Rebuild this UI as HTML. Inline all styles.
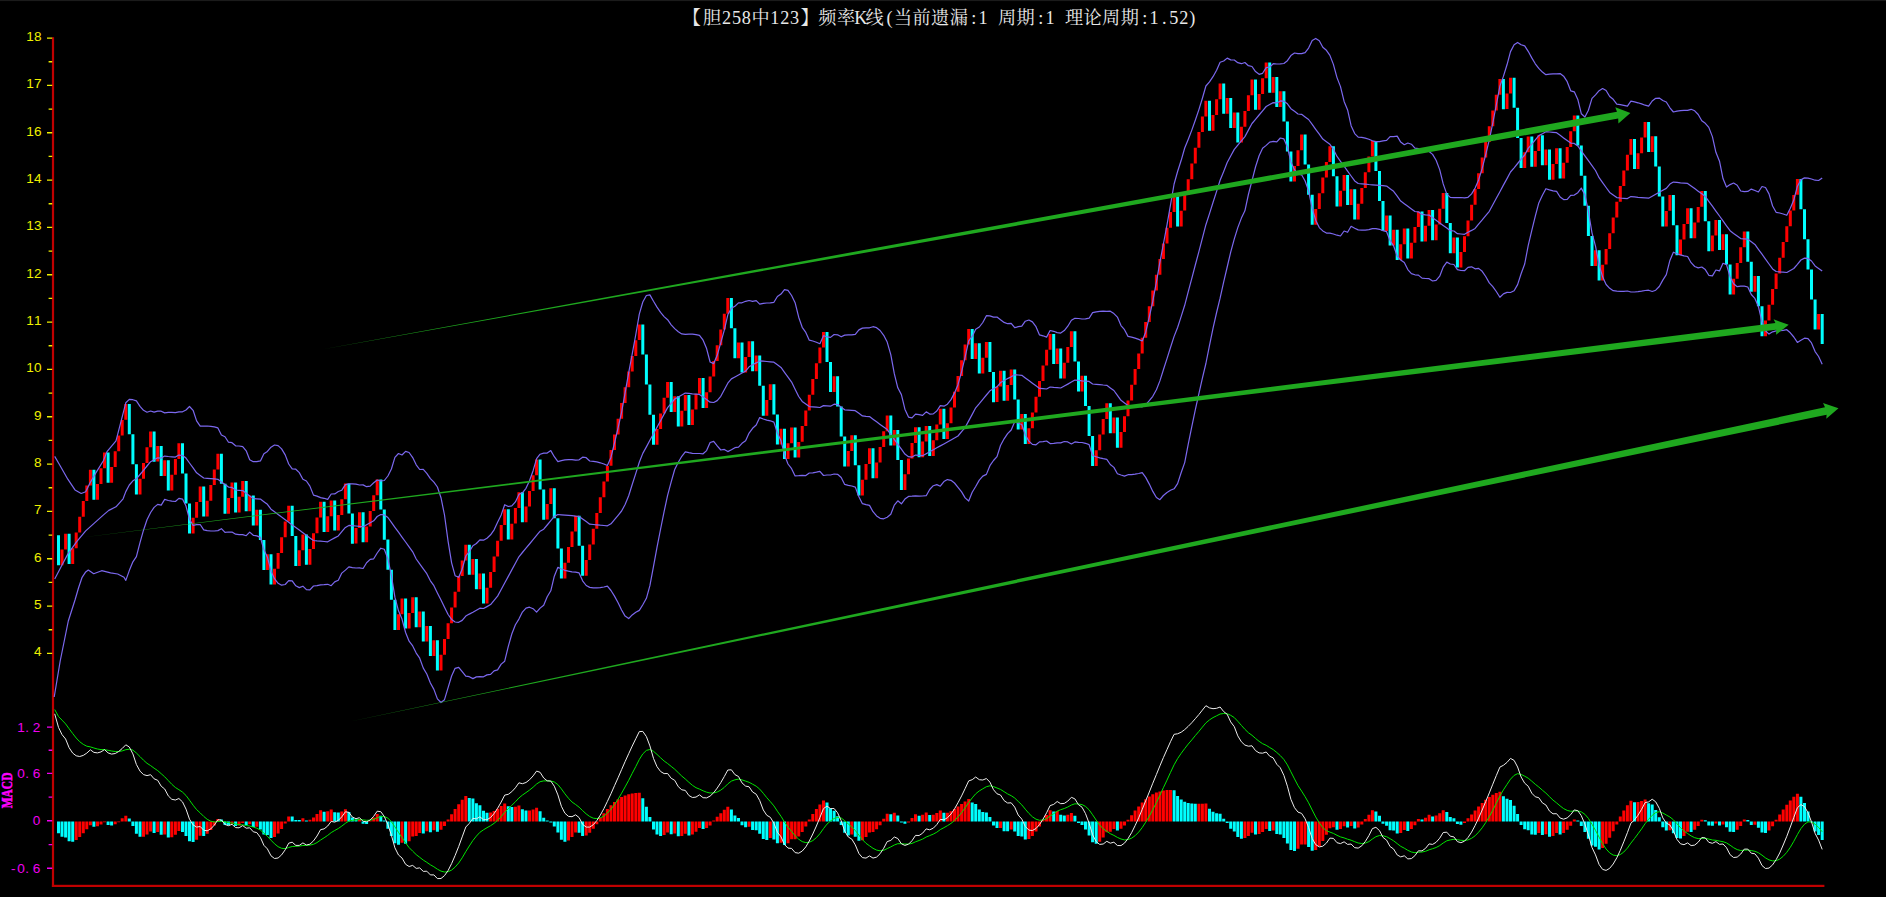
<!DOCTYPE html>
<html><head><meta charset="utf-8"><title>K</title>
<style>html,body{margin:0;padding:0;background:#000;overflow:hidden}svg{display:block}</style>
</head><body>
<svg width="1886" height="897" viewBox="0 0 1886 897">
<rect width="1886" height="897" fill="#000"/>
<rect width="1886" height="1.1" fill="#1b1b1b"/>
<rect x="51.9" y="37.2" width="2.2" height="849.8" fill="#c00000"/>
<rect x="51.9" y="884.8" width="1772.5" height="2.2" fill="#c00000"/>
<path d="M47 38.1h5.2M48.6 61.8h3.6M47 85.4h5.2M48.6 109.1h3.6M47 132.8h5.2M48.6 156.4h3.6M47 180.1h5.2M48.6 203.8h3.6M47 227.4h5.2M48.6 251.1h3.6M47 274.8h5.2M48.6 298.4h3.6M47 322.1h5.2M48.6 345.7h3.6M47 369.4h5.2M48.6 393.1h3.6M47 416.7h5.2M48.6 440.4h3.6M47 464.1h5.2M48.6 487.7h3.6M47 511.4h5.2M48.6 535.1h3.6M47 558.7h5.2M48.6 582.4h3.6M47 606.1h5.2M48.6 629.7h3.6M47 653.4h5.2" stroke="#f0f000" stroke-width="1.4" fill="none"/>
<g font-family="'Liberation Sans',sans-serif">
<text x="26.2 33.9" y="41.0" fill="#f0f000" font-size="13.6">18</text>
<text x="26.2 33.9" y="88.3" fill="#f0f000" font-size="13.6">17</text>
<text x="26.2 33.9" y="135.7" fill="#f0f000" font-size="13.6">16</text>
<text x="26.2 33.9" y="183.0" fill="#f0f000" font-size="13.6">14</text>
<text x="26.2 33.9" y="230.3" fill="#f0f000" font-size="13.6">13</text>
<text x="26.2 33.9" y="277.6" fill="#f0f000" font-size="13.6">12</text>
<text x="26.2 33.9" y="325.0" fill="#f0f000" font-size="13.6">11</text>
<text x="26.2 33.9" y="372.3" fill="#f0f000" font-size="13.6">10</text>
<text x="33.9" y="419.6" fill="#f0f000" font-size="13.6">9</text>
<text x="33.9" y="467.0" fill="#f0f000" font-size="13.6">8</text>
<text x="33.9" y="514.3" fill="#f0f000" font-size="13.6">7</text>
<text x="33.9" y="561.6" fill="#f0f000" font-size="13.6">6</text>
<text x="33.9" y="609.0" fill="#f0f000" font-size="13.6">5</text>
<text x="33.9" y="656.3" fill="#f0f000" font-size="13.6">4</text>
<path d="M47 727.1h5.2M47 773.4h5.2M47 820.8h5.2M47 868.3h5.2M48.6 750.2h3.6M48.6 797.1h3.6M48.6 844.6h3.6" stroke="#f000f0" stroke-width="1.4" fill="none"/>
<text x="17.3 25.3 32.7" y="731.5" fill="#f000f0" font-size="13.6">1.2</text>
<text x="17.3 25.3 32.7" y="777.8" fill="#f000f0" font-size="13.6">0.6</text>
<text x="32.7" y="825.2" fill="#f000f0" font-size="13.6">0</text>
<text x="11.1 17.3 25.3 32.7" y="872.7" fill="#f000f0" font-size="13.6">-0.6</text>
</g>
<text transform="translate(12.3,790.4) rotate(-90) scale(0.74,1)" text-anchor="middle" fill="#ff00ff" font-family="'Liberation Serif',serif" font-weight="bold" font-size="15.5" stroke="#ff00ff" stroke-width="0.5">MACD</text>
<path d="M60.5 549.5h3.0v15.7h-3.0zM64.1 533.8h3.0v15.7h-3.0zM71.2 548.2h3.0v15.7h-3.0zM74.7 532.5h3.0v15.7h-3.0zM78.2 516.8h3.0v15.7h-3.0zM81.8 501.1h3.0v15.7h-3.0zM85.3 485.4h3.0v15.7h-3.0zM88.9 469.7h3.0v15.7h-3.0zM96.0 484.0h3.0v15.7h-3.0zM99.5 468.3h3.0v15.7h-3.0zM103.0 452.6h3.0v15.7h-3.0zM110.1 467.0h3.0v15.7h-3.0zM113.7 451.3h3.0v15.7h-3.0zM117.2 435.6h3.0v15.7h-3.0zM120.7 419.9h3.0v15.7h-3.0zM124.3 404.1h3.0v15.7h-3.0zM138.5 478.7h3.0v15.7h-3.0zM142.0 463.0h3.0v15.7h-3.0zM145.5 447.3h3.0v15.7h-3.0zM149.1 431.6h3.0v15.7h-3.0zM156.2 445.9h3.0v15.7h-3.0zM163.2 460.3h3.0v15.7h-3.0zM170.3 474.7h3.0v15.7h-3.0zM173.9 459.0h3.0v15.7h-3.0zM177.4 443.3h3.0v15.7h-3.0zM191.6 517.8h3.0v15.7h-3.0zM195.1 502.1h3.0v15.7h-3.0zM198.7 486.4h3.0v15.7h-3.0zM205.7 500.8h3.0v15.7h-3.0zM209.3 485.1h3.0v15.7h-3.0zM212.8 469.4h3.0v15.7h-3.0zM216.4 453.7h3.0v15.7h-3.0zM227.0 498.1h3.0v15.7h-3.0zM230.5 482.4h3.0v15.7h-3.0zM237.6 496.8h3.0v15.7h-3.0zM241.2 481.1h3.0v15.7h-3.0zM248.2 495.5h3.0v15.7h-3.0zM255.3 509.8h3.0v15.7h-3.0zM265.9 554.3h3.0v15.7h-3.0zM273.0 568.7h3.0v15.7h-3.0zM276.6 553.0h3.0v15.7h-3.0zM280.1 537.3h3.0v15.7h-3.0zM283.7 521.6h3.0v15.7h-3.0zM287.2 505.8h3.0v15.7h-3.0zM297.8 550.3h3.0v15.7h-3.0zM301.4 534.6h3.0v15.7h-3.0zM308.4 549.0h3.0v15.7h-3.0zM312.0 533.3h3.0v15.7h-3.0zM315.5 517.6h3.0v15.7h-3.0zM319.1 501.8h3.0v15.7h-3.0zM326.2 516.2h3.0v15.7h-3.0zM329.7 500.5h3.0v15.7h-3.0zM336.8 514.9h3.0v15.7h-3.0zM340.3 499.2h3.0v15.7h-3.0zM343.9 483.5h3.0v15.7h-3.0zM354.5 527.9h3.0v15.7h-3.0zM358.0 512.2h3.0v15.7h-3.0zM365.1 526.6h3.0v15.7h-3.0zM368.7 510.9h3.0v15.7h-3.0zM372.2 495.2h3.0v15.7h-3.0zM375.7 479.5h3.0v15.7h-3.0zM397.0 614.2h3.0v15.7h-3.0zM400.5 598.5h3.0v15.7h-3.0zM407.6 612.9h3.0v15.7h-3.0zM411.2 597.2h3.0v15.7h-3.0zM418.2 611.5h3.0v15.7h-3.0zM425.3 625.9h3.0v15.7h-3.0zM432.4 640.3h3.0v15.7h-3.0zM439.5 654.7h3.0v15.7h-3.0zM443.0 639.0h3.0v15.7h-3.0zM446.6 623.3h3.0v15.7h-3.0zM450.1 607.5h3.0v15.7h-3.0zM453.6 591.8h3.0v15.7h-3.0zM457.2 576.1h3.0v15.7h-3.0zM460.7 560.4h3.0v15.7h-3.0zM464.3 544.7h3.0v15.7h-3.0zM471.4 559.1h3.0v15.7h-3.0zM478.4 573.5h3.0v15.7h-3.0zM485.5 587.8h3.0v15.7h-3.0zM489.1 572.1h3.0v15.7h-3.0zM492.6 556.4h3.0v15.7h-3.0zM496.1 540.7h3.0v15.7h-3.0zM499.7 525.0h3.0v15.7h-3.0zM503.2 509.3h3.0v15.7h-3.0zM510.3 523.7h3.0v15.7h-3.0zM513.9 507.9h3.0v15.7h-3.0zM517.4 492.2h3.0v15.7h-3.0zM524.5 506.6h3.0v15.7h-3.0zM528.0 490.9h3.0v15.7h-3.0zM531.6 475.2h3.0v15.7h-3.0zM535.1 459.5h3.0v15.7h-3.0zM545.7 503.9h3.0v15.7h-3.0zM549.3 488.2h3.0v15.7h-3.0zM563.4 562.8h3.0v15.7h-3.0zM567.0 547.1h3.0v15.7h-3.0zM570.5 531.4h3.0v15.7h-3.0zM574.1 515.7h3.0v15.7h-3.0zM584.7 560.1h3.0v15.7h-3.0zM588.2 544.4h3.0v15.7h-3.0zM591.8 528.7h3.0v15.7h-3.0zM595.3 513.0h3.0v15.7h-3.0zM598.8 497.3h3.0v15.7h-3.0zM602.4 481.6h3.0v15.7h-3.0zM605.9 465.9h3.0v15.7h-3.0zM609.5 450.1h3.0v15.7h-3.0zM613.0 434.4h3.0v15.7h-3.0zM616.6 418.7h3.0v15.7h-3.0zM620.1 403.0h3.0v15.7h-3.0zM623.6 387.3h3.0v15.7h-3.0zM627.2 371.6h3.0v15.7h-3.0zM630.7 355.9h3.0v15.7h-3.0zM634.3 340.2h3.0v15.7h-3.0zM637.8 324.4h3.0v15.7h-3.0zM655.5 429.1h3.0v15.7h-3.0zM659.1 413.4h3.0v15.7h-3.0zM662.6 397.7h3.0v15.7h-3.0zM666.1 382.0h3.0v15.7h-3.0zM673.2 396.3h3.0v15.7h-3.0zM680.3 410.7h3.0v15.7h-3.0zM683.8 395.0h3.0v15.7h-3.0zM690.9 409.4h3.0v15.7h-3.0zM694.5 393.7h3.0v15.7h-3.0zM698.0 378.0h3.0v15.7h-3.0zM705.1 392.3h3.0v15.7h-3.0zM708.6 376.6h3.0v15.7h-3.0zM712.2 360.9h3.0v15.7h-3.0zM715.7 345.2h3.0v15.7h-3.0zM719.3 329.5h3.0v15.7h-3.0zM722.8 313.8h3.0v15.7h-3.0zM726.3 298.1h3.0v15.7h-3.0zM737.0 342.5h3.0v15.7h-3.0zM744.1 356.9h3.0v15.7h-3.0zM747.6 341.2h3.0v15.7h-3.0zM754.7 355.6h3.0v15.7h-3.0zM765.3 400.1h3.0v15.7h-3.0zM768.8 384.3h3.0v15.7h-3.0zM779.5 428.8h3.0v15.7h-3.0zM786.5 443.2h3.0v15.7h-3.0zM790.1 427.5h3.0v15.7h-3.0zM797.2 441.9h3.0v15.7h-3.0zM800.7 426.1h3.0v15.7h-3.0zM804.3 410.4h3.0v15.7h-3.0zM807.8 394.7h3.0v15.7h-3.0zM811.3 379.0h3.0v15.7h-3.0zM814.9 363.3h3.0v15.7h-3.0zM818.4 347.6h3.0v15.7h-3.0zM822.0 331.9h3.0v15.7h-3.0zM832.6 376.3h3.0v15.7h-3.0zM846.8 450.9h3.0v15.7h-3.0zM850.3 435.2h3.0v15.7h-3.0zM860.9 479.7h3.0v15.7h-3.0zM864.5 464.0h3.0v15.7h-3.0zM868.0 448.2h3.0v15.7h-3.0zM875.1 462.6h3.0v15.7h-3.0zM878.6 446.9h3.0v15.7h-3.0zM882.2 431.2h3.0v15.7h-3.0zM885.7 415.5h3.0v15.7h-3.0zM892.8 429.9h3.0v15.7h-3.0zM903.4 474.3h3.0v15.7h-3.0zM907.0 458.6h3.0v15.7h-3.0zM910.5 442.9h3.0v15.7h-3.0zM914.0 427.2h3.0v15.7h-3.0zM921.1 441.6h3.0v15.7h-3.0zM924.7 425.9h3.0v15.7h-3.0zM931.8 440.2h3.0v15.7h-3.0zM935.3 424.5h3.0v15.7h-3.0zM938.8 408.8h3.0v15.7h-3.0zM945.9 423.2h3.0v15.7h-3.0zM949.5 407.5h3.0v15.7h-3.0zM953.0 391.8h3.0v15.7h-3.0zM956.5 376.1h3.0v15.7h-3.0zM960.1 360.3h3.0v15.7h-3.0zM963.6 344.6h3.0v15.7h-3.0zM967.2 328.9h3.0v15.7h-3.0zM974.2 343.3h3.0v15.7h-3.0zM981.3 357.7h3.0v15.7h-3.0zM984.9 342.0h3.0v15.7h-3.0zM995.5 386.4h3.0v15.7h-3.0zM999.0 370.7h3.0v15.7h-3.0zM1006.1 385.1h3.0v15.7h-3.0zM1009.7 369.4h3.0v15.7h-3.0zM1020.3 413.9h3.0v15.7h-3.0zM1027.4 428.2h3.0v15.7h-3.0zM1030.9 412.5h3.0v15.7h-3.0zM1034.5 396.8h3.0v15.7h-3.0zM1038.0 381.1h3.0v15.7h-3.0zM1041.5 365.4h3.0v15.7h-3.0zM1045.1 349.7h3.0v15.7h-3.0zM1048.6 334.0h3.0v15.7h-3.0zM1055.7 348.4h3.0v15.7h-3.0zM1062.8 362.7h3.0v15.7h-3.0zM1066.3 347.0h3.0v15.7h-3.0zM1069.9 331.3h3.0v15.7h-3.0zM1080.5 375.8h3.0v15.7h-3.0zM1094.7 450.3h3.0v15.7h-3.0zM1098.2 434.6h3.0v15.7h-3.0zM1101.7 418.9h3.0v15.7h-3.0zM1105.3 403.2h3.0v15.7h-3.0zM1112.4 417.6h3.0v15.7h-3.0zM1119.5 432.0h3.0v15.7h-3.0zM1123.0 416.2h3.0v15.7h-3.0zM1126.5 400.5h3.0v15.7h-3.0zM1130.1 384.8h3.0v15.7h-3.0zM1133.6 369.1h3.0v15.7h-3.0zM1137.2 353.4h3.0v15.7h-3.0zM1140.7 337.7h3.0v15.7h-3.0zM1144.2 322.0h3.0v15.7h-3.0zM1147.8 306.3h3.0v15.7h-3.0zM1151.3 290.6h3.0v15.7h-3.0zM1154.9 274.8h3.0v15.7h-3.0zM1158.4 259.1h3.0v15.7h-3.0zM1161.9 243.4h3.0v15.7h-3.0zM1165.5 227.7h3.0v15.7h-3.0zM1169.0 212.0h3.0v15.7h-3.0zM1172.6 196.3h3.0v15.7h-3.0zM1179.7 210.7h3.0v15.7h-3.0zM1183.2 194.9h3.0v15.7h-3.0zM1186.7 179.2h3.0v15.7h-3.0zM1190.3 163.5h3.0v15.7h-3.0zM1193.8 147.8h3.0v15.7h-3.0zM1197.4 132.1h3.0v15.7h-3.0zM1200.9 116.4h3.0v15.7h-3.0zM1204.4 100.7h3.0v15.7h-3.0zM1211.5 115.1h3.0v15.7h-3.0zM1215.1 99.3h3.0v15.7h-3.0zM1218.6 83.6h3.0v15.7h-3.0zM1225.7 98.0h3.0v15.7h-3.0zM1232.8 112.4h3.0v15.7h-3.0zM1239.9 126.8h3.0v15.7h-3.0zM1243.4 111.1h3.0v15.7h-3.0zM1246.9 95.3h3.0v15.7h-3.0zM1250.5 79.6h3.0v15.7h-3.0zM1257.6 94.0h3.0v15.7h-3.0zM1261.1 78.3h3.0v15.7h-3.0zM1264.7 62.6h3.0v15.7h-3.0zM1271.7 77.0h3.0v15.7h-3.0zM1278.8 91.3h3.0v15.7h-3.0zM1293.0 165.9h3.0v15.7h-3.0zM1296.5 150.2h3.0v15.7h-3.0zM1300.1 134.5h3.0v15.7h-3.0zM1314.2 209.0h3.0v15.7h-3.0zM1317.8 193.3h3.0v15.7h-3.0zM1321.3 177.6h3.0v15.7h-3.0zM1324.9 161.9h3.0v15.7h-3.0zM1328.4 146.2h3.0v15.7h-3.0zM1339.0 190.7h3.0v15.7h-3.0zM1342.6 175.0h3.0v15.7h-3.0zM1349.6 189.3h3.0v15.7h-3.0zM1356.7 203.7h3.0v15.7h-3.0zM1360.3 188.0h3.0v15.7h-3.0zM1363.8 172.3h3.0v15.7h-3.0zM1367.4 156.6h3.0v15.7h-3.0zM1370.9 140.9h3.0v15.7h-3.0zM1385.1 215.4h3.0v15.7h-3.0zM1392.1 229.8h3.0v15.7h-3.0zM1399.2 244.2h3.0v15.7h-3.0zM1402.8 228.5h3.0v15.7h-3.0zM1409.9 242.8h3.0v15.7h-3.0zM1413.4 227.1h3.0v15.7h-3.0zM1416.9 211.4h3.0v15.7h-3.0zM1424.0 225.8h3.0v15.7h-3.0zM1427.6 210.1h3.0v15.7h-3.0zM1434.6 224.5h3.0v15.7h-3.0zM1438.2 208.8h3.0v15.7h-3.0zM1441.7 193.0h3.0v15.7h-3.0zM1452.4 237.5h3.0v15.7h-3.0zM1459.4 251.9h3.0v15.7h-3.0zM1463.0 236.2h3.0v15.7h-3.0zM1466.5 220.5h3.0v15.7h-3.0zM1470.1 204.8h3.0v15.7h-3.0zM1473.6 189.0h3.0v15.7h-3.0zM1477.1 173.3h3.0v15.7h-3.0zM1480.7 157.6h3.0v15.7h-3.0zM1484.2 141.9h3.0v15.7h-3.0zM1487.8 126.2h3.0v15.7h-3.0zM1491.3 110.5h3.0v15.7h-3.0zM1494.8 94.8h3.0v15.7h-3.0zM1498.4 79.1h3.0v15.7h-3.0zM1505.5 93.4h3.0v15.7h-3.0zM1509.0 77.7h3.0v15.7h-3.0zM1523.2 152.3h3.0v15.7h-3.0zM1526.7 136.6h3.0v15.7h-3.0zM1533.8 151.0h3.0v15.7h-3.0zM1537.3 135.2h3.0v15.7h-3.0zM1544.4 149.6h3.0v15.7h-3.0zM1551.5 164.0h3.0v15.7h-3.0zM1555.1 148.3h3.0v15.7h-3.0zM1562.1 162.7h3.0v15.7h-3.0zM1565.7 147.0h3.0v15.7h-3.0zM1569.2 131.2h3.0v15.7h-3.0zM1572.8 115.5h3.0v15.7h-3.0zM1594.0 250.3h3.0v15.7h-3.0zM1601.1 264.7h3.0v15.7h-3.0zM1604.6 248.9h3.0v15.7h-3.0zM1608.2 233.2h3.0v15.7h-3.0zM1611.7 217.5h3.0v15.7h-3.0zM1615.3 201.8h3.0v15.7h-3.0zM1618.8 186.1h3.0v15.7h-3.0zM1622.3 170.4h3.0v15.7h-3.0zM1625.9 154.7h3.0v15.7h-3.0zM1629.4 139.0h3.0v15.7h-3.0zM1636.5 153.3h3.0v15.7h-3.0zM1640.1 137.6h3.0v15.7h-3.0zM1643.6 121.9h3.0v15.7h-3.0zM1650.7 136.3h3.0v15.7h-3.0zM1664.8 210.9h3.0v15.7h-3.0zM1668.4 195.1h3.0v15.7h-3.0zM1679.0 239.6h3.0v15.7h-3.0zM1682.5 223.9h3.0v15.7h-3.0zM1686.1 208.2h3.0v15.7h-3.0zM1693.2 222.6h3.0v15.7h-3.0zM1696.7 206.9h3.0v15.7h-3.0zM1700.3 191.1h3.0v15.7h-3.0zM1710.9 235.6h3.0v15.7h-3.0zM1714.4 219.9h3.0v15.7h-3.0zM1721.5 234.3h3.0v15.7h-3.0zM1732.1 278.8h3.0v15.7h-3.0zM1735.7 263.0h3.0v15.7h-3.0zM1739.2 247.3h3.0v15.7h-3.0zM1742.8 231.6h3.0v15.7h-3.0zM1753.4 276.1h3.0v15.7h-3.0zM1764.0 320.6h3.0v15.7h-3.0zM1767.5 304.8h3.0v15.7h-3.0zM1771.1 289.1h3.0v15.7h-3.0zM1774.6 273.4h3.0v15.7h-3.0zM1778.2 257.7h3.0v15.7h-3.0zM1781.7 242.0h3.0v15.7h-3.0zM1785.3 226.3h3.0v15.7h-3.0zM1788.8 210.6h3.0v15.7h-3.0zM1792.3 194.9h3.0v15.7h-3.0zM1795.9 179.1h3.0v15.7h-3.0zM1817.1 313.9h3.0v15.7h-3.0z" fill="#ff0000"/>
<path d="M57.0 535.2h3.0v30.1h-3.0zM67.6 533.8h3.0v30.1h-3.0zM92.4 469.7h3.0v30.1h-3.0zM106.6 452.6h3.0v30.1h-3.0zM127.8 404.1h3.0v30.1h-3.0zM131.4 434.2h3.0v30.1h-3.0zM134.9 464.3h3.0v30.1h-3.0zM152.6 431.6h3.0v30.1h-3.0zM159.7 445.9h3.0v30.1h-3.0zM166.8 460.3h3.0v30.1h-3.0zM181.0 443.3h3.0v30.1h-3.0zM184.5 473.4h3.0v30.1h-3.0zM188.0 503.5h3.0v30.1h-3.0zM202.2 486.4h3.0v30.1h-3.0zM219.9 453.7h3.0v30.1h-3.0zM223.5 483.7h3.0v30.1h-3.0zM234.1 482.4h3.0v30.1h-3.0zM244.7 481.1h3.0v30.1h-3.0zM251.8 495.5h3.0v30.1h-3.0zM258.9 509.8h3.0v30.1h-3.0zM262.4 539.9h3.0v30.1h-3.0zM269.5 554.3h3.0v30.1h-3.0zM290.7 505.8h3.0v30.1h-3.0zM294.3 535.9h3.0v30.1h-3.0zM304.9 534.6h3.0v30.1h-3.0zM322.6 501.8h3.0v30.1h-3.0zM333.2 500.5h3.0v30.1h-3.0zM347.4 483.5h3.0v30.1h-3.0zM350.9 513.6h3.0v30.1h-3.0zM361.6 512.2h3.0v30.1h-3.0zM379.3 479.5h3.0v30.1h-3.0zM382.8 509.6h3.0v30.1h-3.0zM386.4 539.6h3.0v30.1h-3.0zM389.9 569.7h3.0v30.1h-3.0zM393.4 599.8h3.0v30.1h-3.0zM404.1 598.5h3.0v30.1h-3.0zM414.7 597.2h3.0v30.1h-3.0zM421.8 611.5h3.0v30.1h-3.0zM428.9 625.9h3.0v30.1h-3.0zM435.9 640.3h3.0v30.1h-3.0zM467.8 544.7h3.0v30.1h-3.0zM474.9 559.1h3.0v30.1h-3.0zM482.0 573.5h3.0v30.1h-3.0zM506.8 509.3h3.0v30.1h-3.0zM520.9 492.2h3.0v30.1h-3.0zM538.6 459.5h3.0v30.1h-3.0zM542.2 489.6h3.0v30.1h-3.0zM552.8 488.2h3.0v30.1h-3.0zM556.4 518.3h3.0v30.1h-3.0zM559.9 548.4h3.0v30.1h-3.0zM577.6 515.7h3.0v30.1h-3.0zM581.1 545.7h3.0v30.1h-3.0zM641.3 324.4h3.0v30.1h-3.0zM644.9 354.5h3.0v30.1h-3.0zM648.4 384.6h3.0v30.1h-3.0zM652.0 414.7h3.0v30.1h-3.0zM669.7 382.0h3.0v30.1h-3.0zM676.8 396.3h3.0v30.1h-3.0zM687.4 395.0h3.0v30.1h-3.0zM701.6 378.0h3.0v30.1h-3.0zM729.9 298.1h3.0v30.1h-3.0zM733.4 328.2h3.0v30.1h-3.0zM740.5 342.5h3.0v30.1h-3.0zM751.1 341.2h3.0v30.1h-3.0zM758.2 355.6h3.0v30.1h-3.0zM761.8 385.7h3.0v30.1h-3.0zM772.4 384.3h3.0v30.1h-3.0zM775.9 414.4h3.0v30.1h-3.0zM783.0 428.8h3.0v30.1h-3.0zM793.6 427.5h3.0v30.1h-3.0zM825.5 331.9h3.0v30.1h-3.0zM829.0 362.0h3.0v30.1h-3.0zM836.1 376.3h3.0v30.1h-3.0zM839.7 406.4h3.0v30.1h-3.0zM843.2 436.5h3.0v30.1h-3.0zM853.8 435.2h3.0v30.1h-3.0zM857.4 465.3h3.0v30.1h-3.0zM871.5 448.2h3.0v30.1h-3.0zM889.3 415.5h3.0v30.1h-3.0zM896.3 429.9h3.0v30.1h-3.0zM899.9 460.0h3.0v30.1h-3.0zM917.6 427.2h3.0v30.1h-3.0zM928.2 425.9h3.0v30.1h-3.0zM942.4 408.8h3.0v30.1h-3.0zM970.7 328.9h3.0v30.1h-3.0zM977.8 343.3h3.0v30.1h-3.0zM988.4 342.0h3.0v30.1h-3.0zM992.0 372.1h3.0v30.1h-3.0zM1002.6 370.7h3.0v30.1h-3.0zM1013.2 369.4h3.0v30.1h-3.0zM1016.7 399.5h3.0v30.1h-3.0zM1023.8 413.9h3.0v30.1h-3.0zM1052.2 334.0h3.0v30.1h-3.0zM1059.2 348.4h3.0v30.1h-3.0zM1073.4 331.3h3.0v30.1h-3.0zM1077.0 361.4h3.0v30.1h-3.0zM1084.0 375.8h3.0v30.1h-3.0zM1087.6 405.9h3.0v30.1h-3.0zM1091.1 436.0h3.0v30.1h-3.0zM1108.8 403.2h3.0v30.1h-3.0zM1115.9 417.6h3.0v30.1h-3.0zM1176.1 196.3h3.0v30.1h-3.0zM1208.0 100.7h3.0v30.1h-3.0zM1222.2 83.6h3.0v30.1h-3.0zM1229.2 98.0h3.0v30.1h-3.0zM1236.3 112.4h3.0v30.1h-3.0zM1254.0 79.6h3.0v30.1h-3.0zM1268.2 62.6h3.0v30.1h-3.0zM1275.3 77.0h3.0v30.1h-3.0zM1282.4 91.3h3.0v30.1h-3.0zM1285.9 121.4h3.0v30.1h-3.0zM1289.4 151.5h3.0v30.1h-3.0zM1303.6 134.5h3.0v30.1h-3.0zM1307.1 164.6h3.0v30.1h-3.0zM1310.7 194.7h3.0v30.1h-3.0zM1331.9 146.2h3.0v30.1h-3.0zM1335.5 176.3h3.0v30.1h-3.0zM1346.1 175.0h3.0v30.1h-3.0zM1353.2 189.3h3.0v30.1h-3.0zM1374.4 140.9h3.0v30.1h-3.0zM1378.0 171.0h3.0v30.1h-3.0zM1381.5 201.0h3.0v30.1h-3.0zM1388.6 215.4h3.0v30.1h-3.0zM1395.7 229.8h3.0v30.1h-3.0zM1406.3 228.5h3.0v30.1h-3.0zM1420.5 211.4h3.0v30.1h-3.0zM1431.1 210.1h3.0v30.1h-3.0zM1445.3 193.0h3.0v30.1h-3.0zM1448.8 223.1h3.0v30.1h-3.0zM1455.9 237.5h3.0v30.1h-3.0zM1501.9 79.1h3.0v30.1h-3.0zM1512.6 77.7h3.0v30.1h-3.0zM1516.1 107.8h3.0v30.1h-3.0zM1519.6 137.9h3.0v30.1h-3.0zM1530.3 136.6h3.0v30.1h-3.0zM1540.9 135.2h3.0v30.1h-3.0zM1548.0 149.6h3.0v30.1h-3.0zM1558.6 148.3h3.0v30.1h-3.0zM1576.3 115.5h3.0v30.1h-3.0zM1579.8 145.6h3.0v30.1h-3.0zM1583.4 175.7h3.0v30.1h-3.0zM1586.9 205.8h3.0v30.1h-3.0zM1590.5 235.9h3.0v30.1h-3.0zM1597.6 250.3h3.0v30.1h-3.0zM1633.0 139.0h3.0v30.1h-3.0zM1647.1 121.9h3.0v30.1h-3.0zM1654.2 136.3h3.0v30.1h-3.0zM1657.8 166.4h3.0v30.1h-3.0zM1661.3 196.5h3.0v30.1h-3.0zM1671.9 195.1h3.0v30.1h-3.0zM1675.5 225.2h3.0v30.1h-3.0zM1689.6 208.2h3.0v30.1h-3.0zM1703.8 191.1h3.0v30.1h-3.0zM1707.3 221.2h3.0v30.1h-3.0zM1718.0 219.9h3.0v30.1h-3.0zM1725.0 234.3h3.0v30.1h-3.0zM1728.6 264.4h3.0v30.1h-3.0zM1746.3 231.6h3.0v30.1h-3.0zM1749.8 261.7h3.0v30.1h-3.0zM1756.9 276.1h3.0v30.1h-3.0zM1760.5 306.2h3.0v30.1h-3.0zM1799.4 179.1h3.0v30.1h-3.0zM1803.0 209.2h3.0v30.1h-3.0zM1806.5 239.3h3.0v30.1h-3.0zM1810.0 269.4h3.0v30.1h-3.0zM1813.6 299.5h3.0v30.1h-3.0zM1820.7 313.9h3.0v30.1h-3.0z" fill="#00ffff"/>
<path d="M54.7 456.4 L60.7 466.7 L67.8 479.2 L75.0 489.9 L81.2 493.5 L85.7 491.7 L90.1 482.8 L96.3 472.1 L103.5 460.5 L107.0 451.6 L116.0 440.9 L125.8 402.8 L129.3 399.4 L132.9 399.7 L136.4 400.9 L140.0 406.4 L143.5 410.3 L147.0 412.2 L150.6 411.0 L154.1 412.1 L157.7 411.2 L161.2 411.2 L164.7 412.9 L168.3 412.4 L171.8 412.3 L175.4 412.7 L178.9 411.9 L182.5 411.8 L186.0 410.0 L189.5 406.5 L193.1 410.3 L196.6 420.9 L200.2 426.2 L203.7 426.2 L207.2 426.0 L210.8 426.3 L214.3 426.9 L217.9 427.9 L221.4 435.0 L225.0 436.7 L228.5 442.2 L232.0 442.7 L235.6 445.8 L239.1 446.0 L242.7 446.7 L246.2 450.8 L249.7 459.7 L253.3 461.7 L256.8 461.7 L260.4 460.9 L263.9 453.7 L267.4 451.4 L271.0 447.2 L274.5 445.0 L278.1 445.6 L281.6 448.9 L285.2 454.9 L288.7 464.0 L292.2 468.9 L295.8 469.2 L299.3 472.6 L302.9 479.2 L306.4 481.0 L309.9 486.1 L313.5 495.1 L317.0 496.1 L320.6 497.6 L324.1 498.3 L327.7 499.4 L331.2 494.0 L334.7 493.9 L338.3 491.5 L341.8 490.2 L345.4 484.7 L348.9 483.9 L352.4 483.8 L356.0 484.1 L359.5 485.0 L363.1 484.9 L366.6 486.7 L370.2 486.1 L373.7 482.8 L377.2 480.0 L380.8 480.9 L384.3 480.5 L387.9 476.0 L391.4 469.0 L394.9 457.3 L398.5 453.5 L402.0 455.0 L405.6 451.4 L409.1 452.5 L412.7 457.6 L416.2 464.8 L419.7 469.5 L423.3 469.4 L426.8 473.3 L430.4 478.6 L433.9 482.1 L437.4 487.0 L441.0 497.7 L444.5 515.0 L448.1 541.4 L451.6 562.8 L455.1 575.7 L458.7 577.3 L462.2 569.1 L465.8 556.0 L469.3 551.6 L472.9 545.7 L476.4 543.5 L479.9 539.8 L483.5 540.2 L487.0 538.2 L490.6 534.8 L494.1 529.8 L497.6 522.2 L501.2 514.9 L504.7 504.7 L508.3 506.5 L511.8 505.8 L515.4 501.9 L518.9 494.4 L522.4 492.8 L526.0 488.3 L529.5 480.8 L533.1 470.7 L536.6 458.7 L540.1 454.2 L543.7 453.1 L547.2 453.1 L550.8 450.6 L554.3 456.7 L557.9 461.6 L561.4 460.6 L564.9 459.9 L568.5 459.6 L572.0 459.7 L575.6 460.1 L579.1 459.8 L582.6 457.2 L586.2 457.7 L589.7 461.0 L593.3 461.3 L596.8 461.9 L600.3 462.8 L603.9 464.0 L607.4 465.5 L611.0 457.2 L614.5 443.0 L618.1 427.9 L621.6 412.1 L625.1 392.8 L628.7 372.7 L632.2 354.1 L635.8 334.5 L639.3 314.1 L642.8 302.0 L646.4 295.5 L649.9 294.9 L653.5 301.3 L657.0 307.1 L660.6 312.3 L664.1 316.6 L667.6 319.7 L671.2 324.8 L674.7 328.6 L678.3 331.8 L681.8 333.9 L685.3 334.4 L688.9 334.2 L692.4 334.2 L696.0 334.6 L699.5 335.3 L703.1 340.2 L706.6 348.6 L710.1 362.0 L713.7 363.6 L717.2 355.3 L720.8 342.6 L724.3 330.1 L727.8 314.8 L731.4 308.2 L734.9 306.2 L738.5 302.9 L742.0 302.8 L745.6 301.3 L749.1 300.5 L752.6 301.4 L756.2 300.7 L759.7 304.2 L763.3 303.4 L766.8 303.0 L770.3 302.9 L773.9 302.3 L777.4 296.5 L781.0 294.1 L784.5 289.6 L788.0 290.3 L791.6 295.5 L795.1 302.7 L798.7 317.2 L802.2 327.3 L805.8 332.4 L809.3 340.2 L812.8 341.0 L816.4 342.2 L819.9 343.7 L823.5 335.7 L827.0 336.8 L830.5 337.4 L834.1 334.5 L837.6 334.8 L841.2 336.8 L844.7 335.1 L848.3 334.8 L851.8 334.8 L855.3 334.3 L858.9 329.9 L862.4 328.1 L866.0 327.9 L869.5 327.8 L873.0 326.7 L876.6 327.7 L880.1 330.5 L883.7 335.3 L887.2 342.1 L890.8 354.7 L894.3 373.7 L897.8 387.8 L901.4 394.6 L904.9 409.2 L908.5 417.1 L912.0 417.9 L915.5 414.2 L919.1 414.6 L922.6 415.4 L926.2 411.8 L929.7 414.1 L933.3 413.9 L936.8 411.0 L940.3 405.6 L943.9 406.2 L947.4 404.2 L951.0 399.6 L954.5 392.9 L958.0 384.7 L961.6 371.6 L965.1 357.1 L968.7 340.9 L972.2 336.4 L975.7 329.2 L979.3 327.0 L982.8 322.5 L986.4 315.7 L989.9 315.9 L993.5 317.1 L997.0 317.1 L1000.5 319.7 L1004.1 322.4 L1007.6 323.7 L1011.2 323.3 L1014.7 327.7 L1018.2 326.7 L1021.8 326.2 L1025.3 321.2 L1028.9 320.0 L1032.4 321.9 L1036.0 326.7 L1039.5 334.9 L1043.0 335.8 L1046.6 337.1 L1050.1 330.5 L1053.7 331.3 L1057.2 332.6 L1060.7 333.1 L1064.3 330.6 L1067.8 326.2 L1071.4 320.3 L1074.9 318.3 L1078.5 318.5 L1082.0 319.0 L1085.5 318.9 L1089.1 318.2 L1092.6 312.6 L1096.2 311.8 L1099.7 311.4 L1103.2 311.2 L1106.8 311.3 L1110.3 311.2 L1113.9 313.6 L1117.4 317.1 L1121.0 325.6 L1124.5 329.7 L1128.0 336.4 L1131.6 337.1 L1135.1 338.1 L1138.7 339.4 L1142.2 341.0 L1145.7 332.2 L1149.3 317.0 L1152.8 301.2 L1156.4 282.0 L1159.9 262.1 L1163.4 244.0 L1167.0 224.8 L1170.5 204.8 L1174.1 184.0 L1177.6 171.5 L1181.2 160.3 L1184.7 148.0 L1188.2 139.4 L1191.8 130.1 L1195.3 120.2 L1198.9 109.6 L1202.4 98.2 L1205.9 86.0 L1209.5 81.9 L1213.0 76.7 L1216.6 70.2 L1220.1 62.2 L1223.7 61.0 L1227.2 58.1 L1230.7 59.9 L1234.3 60.0 L1237.8 62.7 L1241.4 63.7 L1244.9 62.5 L1248.4 65.7 L1252.0 66.5 L1255.5 71.6 L1259.1 74.3 L1262.6 73.3 L1266.2 67.6 L1269.7 67.0 L1273.2 63.7 L1276.8 64.0 L1280.3 63.8 L1283.9 63.5 L1287.4 60.7 L1290.9 55.6 L1294.5 53.0 L1298.0 53.7 L1301.6 53.7 L1305.1 52.7 L1308.6 48.1 L1312.2 40.4 L1315.7 38.4 L1319.3 40.8 L1322.8 47.2 L1326.4 50.3 L1329.9 55.4 L1333.4 64.4 L1337.0 77.6 L1340.5 86.6 L1344.1 101.4 L1347.6 109.9 L1351.1 125.7 L1354.7 133.6 L1358.2 137.1 L1361.8 137.4 L1365.3 138.1 L1368.9 139.2 L1372.4 140.8 L1375.9 141.6 L1379.5 141.6 L1383.0 140.8 L1386.6 140.4 L1390.1 136.6 L1393.6 136.7 L1397.2 136.1 L1400.7 142.1 L1404.3 144.7 L1407.8 143.0 L1411.4 144.2 L1414.9 148.2 L1418.4 148.6 L1422.0 150.8 L1425.5 151.0 L1429.1 151.5 L1432.6 154.4 L1436.1 160.3 L1439.7 169.6 L1443.2 183.9 L1446.8 194.1 L1450.3 197.4 L1453.9 197.6 L1457.4 197.7 L1460.9 197.5 L1464.5 197.8 L1468.0 197.3 L1471.6 193.9 L1475.1 188.0 L1478.6 179.9 L1482.2 168.4 L1485.7 154.7 L1489.3 139.8 L1492.8 123.0 L1496.3 105.0 L1499.9 86.1 L1503.4 76.4 L1507.0 64.8 L1510.5 51.6 L1514.1 44.8 L1517.6 42.4 L1521.1 44.8 L1524.7 45.9 L1528.2 51.3 L1531.8 57.9 L1535.3 63.8 L1538.8 68.4 L1542.4 72.1 L1545.9 74.7 L1549.5 74.1 L1553.0 73.8 L1556.6 73.9 L1560.1 73.6 L1563.6 76.2 L1567.2 81.7 L1570.7 90.8 L1574.3 91.8 L1577.8 99.4 L1581.3 113.7 L1584.9 117.0 L1588.4 110.2 L1592.0 98.4 L1595.5 94.8 L1599.1 90.7 L1602.6 88.5 L1606.1 90.5 L1609.7 96.5 L1613.2 99.3 L1616.8 104.1 L1620.3 104.6 L1623.8 105.3 L1627.4 106.2 L1630.9 101.2 L1634.5 101.9 L1638.0 102.8 L1641.6 103.9 L1645.1 105.2 L1648.6 106.2 L1652.2 101.0 L1655.7 98.3 L1659.3 98.1 L1662.8 100.5 L1666.3 102.0 L1669.9 107.8 L1673.4 112.0 L1677.0 111.2 L1680.5 110.6 L1684.0 110.3 L1687.6 110.3 L1691.1 109.3 L1694.7 110.8 L1698.2 114.5 L1701.8 120.7 L1705.3 123.3 L1708.8 127.4 L1712.4 136.6 L1715.9 152.3 L1719.5 161.2 L1723.0 178.6 L1726.5 187.1 L1730.1 184.6 L1733.6 183.0 L1737.2 185.2 L1740.7 191.0 L1744.3 191.6 L1747.8 191.4 L1751.3 189.1 L1754.9 190.5 L1758.4 192.0 L1762.0 186.5 L1765.5 187.5 L1769.0 193.9 L1772.6 206.0 L1776.1 212.3 L1779.7 213.0 L1783.2 214.0 L1786.8 215.3 L1790.3 208.2 L1793.8 200.1 L1797.4 186.2 L1800.9 179.8 L1804.5 177.9 L1808.0 178.1 L1811.5 179.0 L1815.1 180.2 L1818.6 180.5 L1822.2 177.9" fill="none" stroke="#7b68ee" stroke-width="1.2" stroke-linejoin="round"/>
<path d="M54.7 579.0 L60.7 567.5 L67.8 554.1 L76.7 541.6 L85.7 530.9 L94.6 522.9 L103.5 514.9 L108.8 510.4 L116.0 506.8 L123.1 498.8 L125.8 491.6 L129.3 485.0 L132.9 480.8 L136.4 478.8 L140.0 474.5 L143.5 470.3 L147.0 466.0 L150.6 461.7 L154.1 459.8 L157.7 457.8 L161.2 458.1 L164.7 456.1 L168.3 456.5 L171.8 456.8 L175.4 457.1 L178.9 455.1 L182.5 455.5 L186.0 458.1 L189.5 463.0 L193.1 467.9 L196.6 472.8 L200.2 475.4 L203.7 478.0 L207.2 478.3 L210.8 478.6 L214.3 478.9 L217.9 479.3 L221.4 481.9 L225.0 484.5 L228.5 487.1 L232.0 487.4 L235.6 490.0 L239.1 490.3 L242.7 490.6 L246.2 493.3 L249.7 495.9 L253.3 498.5 L256.8 498.8 L260.4 499.1 L263.9 501.7 L267.4 504.3 L271.0 509.2 L274.5 511.8 L278.1 514.4 L281.6 517.1 L285.2 519.7 L288.7 522.3 L292.2 524.9 L295.8 527.5 L299.3 530.1 L302.9 532.7 L306.4 535.3 L309.9 537.9 L313.5 540.5 L317.0 540.9 L320.6 541.2 L324.1 541.5 L327.7 541.8 L331.2 539.8 L334.7 537.9 L338.3 535.9 L341.8 531.6 L345.4 527.4 L348.9 525.4 L352.4 525.7 L356.0 526.0 L359.5 526.4 L363.1 526.7 L366.6 524.7 L370.2 522.7 L373.7 520.8 L377.2 516.5 L380.8 514.5 L384.3 514.9 L387.9 517.5 L391.4 522.4 L394.9 527.3 L398.5 532.2 L402.0 537.1 L405.6 542.0 L409.1 546.9 L412.7 551.8 L416.2 559.0 L419.7 563.9 L423.3 568.8 L426.8 573.7 L430.4 580.8 L433.9 585.7 L437.4 592.9 L441.0 600.1 L444.5 607.3 L448.1 614.5 L451.6 619.4 L455.1 622.0 L458.7 622.3 L462.2 620.4 L465.8 616.1 L469.3 614.1 L472.9 612.2 L476.4 610.2 L479.9 608.2 L483.5 608.5 L487.0 606.6 L490.6 604.6 L494.1 600.3 L497.6 596.1 L501.2 589.5 L504.7 583.0 L508.3 576.4 L511.8 569.9 L515.4 563.3 L518.9 556.8 L522.4 552.5 L526.0 548.2 L529.5 544.0 L533.1 539.7 L536.6 535.4 L540.1 531.2 L543.7 529.2 L547.2 525.0 L550.8 520.7 L554.3 516.4 L557.9 514.5 L561.4 514.8 L564.9 515.1 L568.5 515.4 L572.0 515.7 L575.6 516.1 L579.1 516.4 L582.6 519.0 L586.2 521.6 L589.7 524.2 L593.3 524.5 L596.8 524.8 L600.3 525.2 L603.9 525.5 L607.4 525.8 L611.0 523.8 L614.5 519.6 L618.1 515.3 L621.6 511.0 L625.1 504.5 L628.7 495.7 L632.2 484.5 L635.8 473.4 L639.3 462.3 L642.8 453.4 L646.4 446.9 L649.9 440.3 L653.5 433.8 L657.0 427.2 L660.6 420.7 L664.1 414.1 L667.6 407.6 L671.2 403.3 L674.7 399.0 L678.3 397.1 L681.8 395.1 L685.3 393.1 L688.9 393.4 L692.4 393.8 L696.0 394.1 L699.5 394.4 L703.1 397.0 L706.6 399.6 L710.1 402.2 L713.7 402.5 L717.2 400.6 L720.8 396.3 L724.3 389.8 L727.8 383.2 L731.4 378.9 L734.9 377.0 L738.5 375.0 L742.0 373.0 L745.6 371.1 L749.1 366.8 L752.6 364.8 L756.2 362.9 L759.7 360.9 L763.3 361.2 L766.8 361.5 L770.3 361.8 L773.9 362.2 L777.4 364.8 L781.0 367.4 L784.5 372.3 L788.0 377.2 L791.6 382.1 L795.1 389.3 L798.7 396.5 L802.2 401.4 L805.8 404.0 L809.3 406.6 L812.8 406.9 L816.4 407.2 L819.9 407.5 L823.5 405.6 L827.0 405.9 L830.5 406.2 L834.1 404.2 L837.6 404.5 L841.2 407.2 L844.7 409.8 L848.3 410.1 L851.8 410.4 L855.3 410.7 L858.9 413.3 L862.4 415.9 L866.0 416.3 L869.5 416.6 L873.0 419.2 L876.6 421.8 L880.1 424.4 L883.7 427.0 L887.2 429.6 L890.8 434.5 L894.3 439.4 L897.8 444.3 L901.4 449.2 L904.9 454.1 L908.5 456.7 L912.0 457.1 L915.5 455.1 L919.1 455.4 L922.6 455.7 L926.2 453.7 L929.7 451.8 L933.3 449.8 L936.8 447.8 L940.3 445.9 L943.9 443.9 L947.4 441.9 L951.0 439.9 L954.5 438.0 L958.0 436.0 L961.6 431.7 L965.1 427.5 L968.7 420.9 L972.2 414.4 L975.7 407.8 L979.3 403.6 L982.8 399.3 L986.4 395.0 L989.9 390.8 L993.5 388.8 L997.0 386.8 L1000.5 382.6 L1004.1 380.6 L1007.6 378.6 L1011.2 376.7 L1014.7 374.7 L1018.2 375.0 L1021.8 375.3 L1025.3 377.9 L1028.9 380.6 L1032.4 383.2 L1036.0 385.8 L1039.5 388.4 L1043.0 388.7 L1046.6 389.0 L1050.1 387.0 L1053.7 387.4 L1057.2 387.7 L1060.7 388.0 L1064.3 386.0 L1067.8 384.1 L1071.4 382.1 L1074.9 380.1 L1078.5 380.4 L1082.0 380.8 L1085.5 381.1 L1089.1 381.4 L1092.6 384.0 L1096.2 384.3 L1099.7 384.6 L1103.2 385.0 L1106.8 385.3 L1110.3 387.9 L1113.9 390.5 L1117.4 395.4 L1121.0 400.3 L1124.5 402.9 L1128.0 405.5 L1131.6 405.8 L1135.1 406.2 L1138.7 406.5 L1142.2 406.8 L1145.7 404.8 L1149.3 400.6 L1152.8 396.3 L1156.4 389.7 L1159.9 380.9 L1163.4 369.8 L1167.0 358.6 L1170.5 347.5 L1174.1 336.4 L1177.6 327.5 L1181.2 316.4 L1184.7 305.3 L1188.2 291.9 L1191.8 278.4 L1195.3 265.0 L1198.9 251.6 L1202.4 238.2 L1205.9 224.7 L1209.5 213.6 L1213.0 202.5 L1216.6 191.4 L1220.1 180.2 L1223.7 171.4 L1227.2 162.5 L1230.7 156.0 L1234.3 149.4 L1237.8 145.2 L1241.4 140.9 L1244.9 136.6 L1248.4 130.1 L1252.0 123.5 L1255.5 119.3 L1259.1 115.0 L1262.6 110.8 L1266.2 106.5 L1269.7 104.5 L1273.2 102.6 L1276.8 102.9 L1280.3 100.9 L1283.9 101.2 L1287.4 103.8 L1290.9 108.7 L1294.5 111.3 L1298.0 114.0 L1301.6 114.3 L1305.1 116.9 L1308.6 119.5 L1312.2 124.4 L1315.7 129.3 L1319.3 134.2 L1322.8 139.1 L1326.4 141.7 L1329.9 144.3 L1333.4 149.2 L1337.0 156.4 L1340.5 161.3 L1344.1 166.2 L1347.6 171.1 L1351.1 176.0 L1354.7 180.9 L1358.2 183.5 L1361.8 183.8 L1365.3 184.1 L1368.9 184.5 L1372.4 184.8 L1375.9 185.1 L1379.5 185.4 L1383.0 185.7 L1386.6 186.1 L1390.1 188.7 L1393.6 191.3 L1397.2 196.2 L1400.7 201.1 L1404.3 203.7 L1407.8 206.3 L1411.4 208.9 L1414.9 211.5 L1418.4 211.8 L1422.0 214.4 L1425.5 214.8 L1429.1 215.1 L1432.6 217.7 L1436.1 220.3 L1439.7 222.9 L1443.2 225.5 L1446.8 228.1 L1450.3 230.7 L1453.9 231.0 L1457.4 233.7 L1460.9 234.0 L1464.5 234.3 L1468.0 232.3 L1471.6 230.4 L1475.1 228.4 L1478.6 224.1 L1482.2 219.9 L1485.7 215.6 L1489.3 211.3 L1492.8 204.8 L1496.3 198.2 L1499.9 191.7 L1503.4 185.1 L1507.0 178.6 L1510.5 172.0 L1514.1 167.8 L1517.6 163.5 L1521.1 159.2 L1524.7 155.0 L1528.2 148.4 L1531.8 144.2 L1535.3 139.9 L1538.8 135.6 L1542.4 133.7 L1545.9 131.7 L1549.5 132.0 L1553.0 132.3 L1556.6 132.7 L1560.1 135.3 L1563.6 137.9 L1567.2 140.5 L1570.7 143.1 L1574.3 143.4 L1577.8 146.0 L1581.3 150.9 L1584.9 155.8 L1588.4 160.7 L1592.0 165.6 L1595.5 170.5 L1599.1 177.7 L1602.6 182.6 L1606.1 187.5 L1609.7 192.4 L1613.2 195.0 L1616.8 197.6 L1620.3 198.0 L1623.8 198.3 L1627.4 198.6 L1630.9 196.6 L1634.5 196.9 L1638.0 197.3 L1641.6 197.6 L1645.1 197.9 L1648.6 198.2 L1652.2 196.2 L1655.7 194.3 L1659.3 192.3 L1662.8 190.3 L1666.3 188.4 L1669.9 184.1 L1673.4 182.1 L1677.0 182.4 L1680.5 182.8 L1684.0 183.1 L1687.6 183.4 L1691.1 186.0 L1694.7 188.6 L1698.2 191.2 L1701.8 193.8 L1705.3 196.4 L1708.8 201.3 L1712.4 206.2 L1715.9 211.1 L1719.5 216.0 L1723.0 220.9 L1726.5 225.8 L1730.1 230.7 L1733.6 233.4 L1737.2 236.0 L1740.7 238.6 L1744.3 238.9 L1747.8 239.2 L1751.3 241.8 L1754.9 244.4 L1758.4 249.3 L1762.0 254.2 L1765.5 259.1 L1769.0 264.0 L1772.6 268.9 L1776.1 271.5 L1779.7 271.9 L1783.2 272.2 L1786.8 272.5 L1790.3 270.5 L1793.8 268.5 L1797.4 264.3 L1800.9 260.0 L1804.5 258.1 L1808.0 258.4 L1811.5 261.0 L1815.1 265.9 L1818.6 268.5 L1822.2 271.1" fill="none" stroke="#7b68ee" stroke-width="1.2" stroke-linejoin="round"/>
<path d="M54.2 697.0 L60.2 661.0 L68.3 621.0 L75.0 600.0 L78.5 588.0 L82.1 577.3 L85.7 571.9 L88.3 570.1 L93.7 573.7 L101.7 570.7 L110.6 572.8 L117.7 574.0 L124.0 577.3 L125.8 580.4 L129.3 570.6 L132.9 561.8 L136.4 556.6 L140.0 542.7 L143.5 530.2 L147.0 519.8 L150.6 512.5 L154.1 507.4 L157.7 504.4 L161.2 505.1 L164.7 499.4 L168.3 500.5 L171.8 501.2 L175.4 501.5 L178.9 498.4 L182.5 499.1 L186.0 506.1 L189.5 519.4 L193.1 525.4 L196.6 524.6 L200.2 524.5 L203.7 529.8 L207.2 530.6 L210.8 531.0 L214.3 531.0 L217.9 530.6 L221.4 528.7 L225.0 532.3 L228.5 532.0 L232.0 532.1 L235.6 534.2 L239.1 534.6 L242.7 534.6 L246.2 535.7 L249.7 532.1 L253.3 535.3 L256.8 535.9 L260.4 537.4 L263.9 549.8 L267.4 557.2 L271.0 571.2 L274.5 578.7 L278.1 583.3 L281.6 585.2 L285.2 584.5 L288.7 580.6 L292.2 580.8 L295.8 585.8 L299.3 587.6 L302.9 586.2 L306.4 589.7 L309.9 589.8 L313.5 586.0 L317.0 585.6 L320.6 584.8 L324.1 584.7 L327.7 584.3 L331.2 585.7 L334.7 581.9 L338.3 580.3 L341.8 573.1 L345.4 570.1 L348.9 566.9 L352.4 567.7 L356.0 568.0 L359.5 567.8 L363.1 568.5 L366.6 562.7 L370.2 559.4 L373.7 558.8 L377.2 553.0 L380.8 548.2 L384.3 549.3 L387.9 558.9 L391.4 575.7 L394.9 597.2 L398.5 610.8 L402.0 619.1 L405.6 632.5 L409.1 641.2 L412.7 645.9 L416.2 653.1 L419.7 658.2 L423.3 668.1 L426.8 674.0 L430.4 683.0 L433.9 689.4 L437.4 698.9 L441.0 702.5 L444.5 699.7 L448.1 687.6 L451.6 676.0 L455.1 668.3 L458.7 667.3 L462.2 671.6 L465.8 676.2 L469.3 676.7 L472.9 678.6 L476.4 676.9 L479.9 676.7 L483.5 676.8 L487.0 674.9 L490.6 674.4 L494.1 670.9 L497.6 669.9 L501.2 664.1 L504.7 661.2 L508.3 646.3 L511.8 634.0 L515.4 624.7 L518.9 619.1 L522.4 612.1 L526.0 608.2 L529.5 607.2 L533.1 608.7 L536.6 612.2 L540.1 608.1 L543.7 605.3 L547.2 596.8 L550.8 590.8 L554.3 576.2 L557.9 567.3 L561.4 569.0 L564.9 570.3 L568.5 571.2 L572.0 571.8 L575.6 572.1 L579.1 572.9 L582.6 580.8 L586.2 585.5 L589.7 587.4 L593.3 587.8 L596.8 587.8 L600.3 587.6 L603.9 587.0 L607.4 586.1 L611.0 590.5 L614.5 596.1 L618.1 602.7 L621.6 610.0 L625.1 616.1 L628.7 618.6 L632.2 614.9 L635.8 612.3 L639.3 610.4 L642.8 604.8 L646.4 598.3 L649.9 585.7 L653.5 566.3 L657.0 547.3 L660.6 529.0 L664.1 511.6 L667.6 495.4 L671.2 481.8 L674.7 469.5 L678.3 462.3 L681.8 456.3 L685.3 451.8 L688.9 452.7 L692.4 453.3 L696.0 453.5 L699.5 453.5 L703.1 453.8 L706.6 450.6 L710.1 442.5 L713.7 441.4 L717.2 445.9 L720.8 450.0 L724.3 449.4 L727.8 451.6 L731.4 449.7 L734.9 447.7 L738.5 447.1 L742.0 443.3 L745.6 440.8 L749.1 433.1 L752.6 428.3 L756.2 425.0 L759.7 417.6 L763.3 419.0 L766.8 420.1 L770.3 420.8 L773.9 422.1 L777.4 433.0 L781.0 440.7 L784.5 454.9 L788.0 464.0 L791.6 468.7 L795.1 475.9 L798.7 475.7 L802.2 475.4 L805.8 475.6 L809.3 473.0 L812.8 472.8 L816.4 472.2 L819.9 471.4 L823.5 475.5 L827.0 475.0 L830.5 475.0 L834.1 474.0 L837.6 474.3 L841.2 477.5 L844.7 484.4 L848.3 485.4 L851.8 486.0 L855.3 487.1 L858.9 496.7 L862.4 503.7 L866.0 504.7 L869.5 505.4 L873.0 511.7 L876.6 515.9 L880.1 518.3 L883.7 518.8 L887.2 517.2 L890.8 514.3 L894.3 505.1 L897.8 500.8 L901.4 503.8 L904.9 499.1 L908.5 496.4 L912.0 496.2 L915.5 495.9 L919.1 496.2 L922.6 496.0 L926.2 495.7 L929.7 489.5 L933.3 485.7 L936.8 484.6 L940.3 486.2 L943.9 481.6 L947.4 479.6 L951.0 480.3 L954.5 483.0 L958.0 487.3 L961.6 491.9 L965.1 497.9 L968.7 501.0 L972.2 492.3 L975.7 486.5 L979.3 480.1 L982.8 476.1 L986.4 474.4 L989.9 465.7 L993.5 460.5 L997.0 456.6 L1000.5 445.5 L1004.1 438.8 L1007.6 433.6 L1011.2 430.0 L1014.7 421.7 L1018.2 423.3 L1021.8 424.5 L1025.3 434.7 L1028.9 441.1 L1032.4 444.4 L1036.0 444.8 L1039.5 441.9 L1043.0 441.6 L1046.6 441.0 L1050.1 443.6 L1053.7 443.4 L1057.2 442.8 L1060.7 442.9 L1064.3 441.5 L1067.8 441.9 L1071.4 443.9 L1074.9 441.9 L1078.5 442.4 L1082.0 442.5 L1085.5 443.3 L1089.1 444.6 L1092.6 455.5 L1096.2 456.8 L1099.7 457.9 L1103.2 458.7 L1106.8 459.3 L1110.3 464.5 L1113.9 467.4 L1117.4 473.7 L1121.0 475.0 L1124.5 476.1 L1128.0 474.7 L1131.6 474.6 L1135.1 474.2 L1138.7 473.5 L1142.2 472.6 L1145.7 477.4 L1149.3 484.1 L1152.8 491.4 L1156.4 497.5 L1159.9 499.7 L1163.4 495.5 L1167.0 492.5 L1170.5 490.3 L1174.1 488.8 L1177.6 483.6 L1181.2 472.5 L1184.7 462.6 L1188.2 444.3 L1191.8 426.7 L1195.3 409.8 L1198.9 393.6 L1202.4 378.1 L1205.9 363.5 L1209.5 345.3 L1213.0 328.3 L1216.6 312.5 L1220.1 298.2 L1223.7 281.8 L1227.2 267.0 L1230.7 252.1 L1234.3 238.9 L1237.8 227.6 L1241.4 218.1 L1244.9 210.8 L1248.4 194.5 L1252.0 180.6 L1255.5 167.0 L1259.1 155.7 L1262.6 148.2 L1266.2 145.4 L1269.7 142.1 L1273.2 141.4 L1276.8 141.8 L1280.3 138.0 L1283.9 138.9 L1287.4 147.0 L1290.9 161.9 L1294.5 169.7 L1298.0 174.2 L1301.6 174.8 L1305.1 181.0 L1308.6 190.9 L1312.2 208.4 L1315.7 220.2 L1319.3 227.6 L1322.8 230.9 L1326.4 233.1 L1329.9 233.2 L1333.4 234.0 L1337.0 235.2 L1340.5 236.0 L1344.1 231.0 L1347.6 232.3 L1351.1 226.3 L1354.7 228.2 L1358.2 229.9 L1361.8 230.2 L1365.3 230.2 L1368.9 229.7 L1372.4 228.7 L1375.9 228.6 L1379.5 229.3 L1383.0 230.7 L1386.6 231.7 L1390.1 240.7 L1393.6 245.8 L1397.2 256.2 L1400.7 260.0 L1404.3 262.6 L1407.8 269.6 L1411.4 273.6 L1414.9 274.8 L1418.4 275.1 L1422.0 278.1 L1425.5 278.5 L1429.1 278.7 L1432.6 281.0 L1436.1 280.3 L1439.7 276.2 L1443.2 267.1 L1446.8 262.1 L1450.3 264.0 L1453.9 264.5 L1457.4 269.7 L1460.9 270.5 L1464.5 270.7 L1468.0 267.4 L1471.6 266.8 L1475.1 268.8 L1478.6 268.4 L1482.2 271.3 L1485.7 276.5 L1489.3 282.9 L1492.8 286.6 L1496.3 291.5 L1499.9 297.3 L1503.4 293.9 L1507.0 292.4 L1510.5 292.5 L1514.1 290.8 L1517.6 284.6 L1521.1 273.7 L1524.7 264.0 L1528.2 245.6 L1531.8 230.4 L1535.3 216.1 L1538.8 202.9 L1542.4 195.2 L1545.9 188.7 L1549.5 189.9 L1553.0 190.8 L1556.6 191.4 L1560.1 197.0 L1563.6 199.6 L1567.2 199.3 L1570.7 195.4 L1574.3 195.1 L1577.8 192.7 L1581.3 188.1 L1584.9 194.7 L1588.4 211.3 L1592.0 232.8 L1595.5 246.2 L1599.1 264.7 L1602.6 276.8 L1606.1 284.5 L1609.7 288.3 L1613.2 290.7 L1616.8 291.2 L1620.3 291.3 L1623.8 291.3 L1627.4 291.0 L1630.9 292.0 L1634.5 292.0 L1638.0 291.7 L1641.6 291.2 L1645.1 290.5 L1648.6 290.2 L1652.2 291.5 L1655.7 290.2 L1659.3 286.5 L1662.8 280.1 L1666.3 274.7 L1669.9 260.4 L1673.4 252.2 L1677.0 253.7 L1680.5 254.9 L1684.0 255.9 L1687.6 256.5 L1691.1 262.7 L1694.7 266.5 L1698.2 267.9 L1701.8 267.0 L1705.3 269.6 L1708.8 275.3 L1712.4 275.9 L1715.9 270.0 L1719.5 270.9 L1723.0 263.3 L1726.5 264.6 L1730.1 276.9 L1733.6 283.7 L1737.2 286.7 L1740.7 286.2 L1744.3 286.2 L1747.8 287.0 L1751.3 294.5 L1754.9 298.4 L1758.4 306.6 L1762.0 321.9 L1765.5 330.7 L1769.0 334.1 L1772.6 331.8 L1776.1 330.8 L1779.7 330.7 L1783.2 330.4 L1786.8 329.7 L1790.3 332.8 L1793.8 337.0 L1797.4 342.4 L1800.9 340.2 L1804.5 338.2 L1808.0 338.7 L1811.5 342.9 L1815.1 351.6 L1818.6 356.5 L1822.2 364.3" fill="none" stroke="#7b68ee" stroke-width="1.2" stroke-linejoin="round"/>
<path d="M74.7 821.5h3.0v18.6h-3.0zM78.2 821.5h3.0v15.6h-3.0zM81.8 821.5h3.0v11.8h-3.0zM85.3 821.5h3.0v7.8h-3.0zM88.9 821.5h3.0v3.7h-3.0zM96.0 821.5h3.0v4.8h-3.0zM99.5 821.5h3.0v3.1h-3.0zM103.0 821.5h3.0v0.8h-3.0zM113.7 821.5h3.0v2.8h-3.0zM117.2 821.5h3.0v0.8h-3.0zM120.7 818.3h3.0v3.2h-3.0zM124.3 815.8h3.0v5.7h-3.0zM142.0 821.5h3.0v15.2h-3.0zM145.5 821.5h3.0v13.1h-3.0zM149.1 821.5h3.0v9.9h-3.0zM156.2 821.5h3.0v10.4h-3.0zM163.2 821.5h3.0v13.0h-3.0zM170.3 821.5h3.0v15.7h-3.0zM173.9 821.5h3.0v13.3h-3.0zM177.4 821.5h3.0v9.6h-3.0zM195.1 821.5h3.0v18.3h-3.0zM198.7 821.5h3.0v14.3h-3.0zM205.7 821.5h3.0v12.3h-3.0zM209.3 821.5h3.0v8.5h-3.0zM212.8 821.5h3.0v3.9h-3.0zM216.4 818.9h3.0v2.6h-3.0zM230.5 821.5h3.0v2.2h-3.0zM237.6 821.5h3.0v3.9h-3.0zM241.2 821.5h3.0v1.5h-3.0zM248.2 821.5h3.0v2.7h-3.0zM255.3 821.5h3.0v5.2h-3.0zM273.0 821.5h3.0v15.5h-3.0zM276.6 821.5h3.0v12.1h-3.0zM280.1 821.5h3.0v7.4h-3.0zM283.7 821.5h3.0v2.0h-3.0zM287.2 816.4h3.0v5.1h-3.0zM301.4 818.2h3.0v3.3h-3.0zM308.4 819.7h3.0v1.8h-3.0zM312.0 817.4h3.0v4.1h-3.0zM315.5 814.0h3.0v7.5h-3.0zM319.1 810.3h3.0v11.2h-3.0zM326.2 811.2h3.0v10.3h-3.0zM329.7 809.4h3.0v12.1h-3.0zM340.3 811.4h3.0v10.1h-3.0zM343.9 809.2h3.0v12.3h-3.0zM358.0 818.9h3.0v2.6h-3.0zM368.7 820.5h3.0v1.0h-3.0zM372.2 817.6h3.0v3.9h-3.0zM375.7 814.1h3.0v7.4h-3.0zM400.5 821.5h3.0v21.3h-3.0zM407.6 821.5h3.0v19.7h-3.0zM411.2 821.5h3.0v15.0h-3.0zM414.7 821.5h3.0v14.6h-3.0zM418.2 821.5h3.0v11.4h-3.0zM425.3 821.5h3.0v9.7h-3.0zM432.4 821.5h3.0v8.8h-3.0zM439.5 821.5h3.0v8.3h-3.0zM443.0 821.5h3.0v4.5h-3.0zM446.6 819.5h3.0v2.0h-3.0zM450.1 814.3h3.0v7.2h-3.0zM453.6 809.1h3.0v12.4h-3.0zM457.2 804.2h3.0v17.3h-3.0zM460.7 799.8h3.0v21.7h-3.0zM464.3 796.0h3.0v25.5h-3.0zM489.1 812.5h3.0v9.0h-3.0zM492.6 811.0h3.0v10.5h-3.0zM496.1 808.7h3.0v12.8h-3.0zM499.7 806.1h3.0v15.4h-3.0zM503.2 803.5h3.0v18.0h-3.0zM513.9 806.7h3.0v14.8h-3.0zM517.4 805.5h3.0v16.0h-3.0zM528.0 810.5h3.0v11.0h-3.0zM531.6 809.4h3.0v12.1h-3.0zM535.1 807.8h3.0v13.7h-3.0zM567.0 821.5h3.0v18.9h-3.0zM570.5 821.5h3.0v15.5h-3.0zM574.1 821.5h3.0v11.0h-3.0zM584.7 821.5h3.0v14.0h-3.0zM588.2 821.5h3.0v11.3h-3.0zM591.8 821.5h3.0v7.3h-3.0zM595.3 821.5h3.0v2.7h-3.0zM598.8 817.8h3.0v3.7h-3.0zM602.4 813.2h3.0v8.3h-3.0zM605.9 808.9h3.0v12.6h-3.0zM609.5 805.2h3.0v16.3h-3.0zM613.0 801.9h3.0v19.6h-3.0zM616.6 799.2h3.0v22.3h-3.0zM620.1 797.0h3.0v24.5h-3.0zM623.6 795.4h3.0v26.1h-3.0zM627.2 794.2h3.0v27.3h-3.0zM630.7 793.4h3.0v28.1h-3.0zM634.3 792.9h3.0v28.6h-3.0zM637.8 792.8h3.0v28.7h-3.0zM662.6 821.5h3.0v13.4h-3.0zM666.1 821.5h3.0v10.9h-3.0zM673.2 821.5h3.0v11.9h-3.0zM680.3 821.5h3.0v14.5h-3.0zM683.8 821.5h3.0v12.2h-3.0zM690.9 821.5h3.0v13.0h-3.0zM694.5 821.5h3.0v10.2h-3.0zM698.0 821.5h3.0v6.5h-3.0zM705.1 821.5h3.0v6.5h-3.0zM708.6 821.5h3.0v3.9h-3.0zM712.2 820.5h3.0v1.0h-3.0zM715.7 816.8h3.0v4.7h-3.0zM719.3 813.2h3.0v8.3h-3.0zM722.8 809.8h3.0v11.7h-3.0zM726.3 806.8h3.0v14.7h-3.0zM747.6 821.5h3.0v5.3h-3.0zM768.8 821.5h3.0v16.5h-3.0zM779.5 821.5h3.0v21.3h-3.0zM786.5 821.5h3.0v21.7h-3.0zM790.1 821.5h3.0v17.7h-3.0zM793.6 821.5h3.0v17.7h-3.0zM797.2 821.5h3.0v14.9h-3.0zM800.7 821.5h3.0v10.4h-3.0zM804.3 821.5h3.0v5.1h-3.0zM807.8 819.4h3.0v2.1h-3.0zM811.3 814.0h3.0v7.5h-3.0zM814.9 809.0h3.0v12.5h-3.0zM818.4 804.5h3.0v17.0h-3.0zM822.0 800.6h3.0v20.9h-3.0zM850.3 821.5h3.0v13.0h-3.0zM860.9 821.5h3.0v18.8h-3.0zM864.5 821.5h3.0v15.6h-3.0zM868.0 821.5h3.0v10.9h-3.0zM871.5 821.5h3.0v10.6h-3.0zM875.1 821.5h3.0v7.8h-3.0zM878.6 821.5h3.0v3.7h-3.0zM882.2 818.8h3.0v2.7h-3.0zM885.7 813.8h3.0v7.7h-3.0zM892.8 812.8h3.0v8.7h-3.0zM907.0 821.5h3.0v0.9h-3.0zM910.5 818.0h3.0v3.5h-3.0zM914.0 814.3h3.0v7.2h-3.0zM921.1 814.8h3.0v6.7h-3.0zM924.7 812.6h3.0v8.9h-3.0zM931.8 814.8h3.0v6.7h-3.0zM935.3 813.1h3.0v8.4h-3.0zM938.8 810.5h3.0v11.0h-3.0zM945.9 812.8h3.0v8.7h-3.0zM949.5 811.3h3.0v10.2h-3.0zM953.0 809.1h3.0v12.4h-3.0zM956.5 806.5h3.0v15.0h-3.0zM960.1 803.9h3.0v17.6h-3.0zM963.6 801.4h3.0v20.1h-3.0zM967.2 799.1h3.0v22.4h-3.0zM999.0 821.5h3.0v6.4h-3.0zM1009.7 821.5h3.0v7.9h-3.0zM1027.4 821.5h3.0v17.5h-3.0zM1030.9 821.5h3.0v14.5h-3.0zM1034.5 821.5h3.0v10.1h-3.0zM1038.0 821.5h3.0v5.1h-3.0zM1041.5 819.9h3.0v1.6h-3.0zM1045.1 814.9h3.0v6.6h-3.0zM1048.6 810.3h3.0v11.2h-3.0zM1055.7 810.9h3.0v10.6h-3.0zM1066.3 814.8h3.0v6.7h-3.0zM1069.9 812.9h3.0v8.6h-3.0zM1098.2 821.5h3.0v20.2h-3.0zM1101.7 821.5h3.0v16.1h-3.0zM1105.3 821.5h3.0v10.8h-3.0zM1108.8 821.5h3.0v10.3h-3.0zM1112.4 821.5h3.0v7.6h-3.0zM1119.5 821.5h3.0v7.3h-3.0zM1123.0 821.5h3.0v4.0h-3.0zM1126.5 819.7h3.0v1.8h-3.0zM1130.1 815.2h3.0v6.3h-3.0zM1133.6 810.6h3.0v10.9h-3.0zM1137.2 806.4h3.0v15.1h-3.0zM1140.7 802.6h3.0v18.9h-3.0zM1144.2 799.3h3.0v22.2h-3.0zM1147.8 796.5h3.0v25.0h-3.0zM1151.3 794.3h3.0v27.2h-3.0zM1154.9 792.6h3.0v28.9h-3.0zM1158.4 791.4h3.0v30.1h-3.0zM1161.9 790.6h3.0v30.9h-3.0zM1165.5 790.1h3.0v31.4h-3.0zM1169.0 790.0h3.0v31.5h-3.0zM1197.4 803.8h3.0v17.7h-3.0zM1200.9 803.7h3.0v17.8h-3.0zM1204.4 803.6h3.0v17.9h-3.0zM1243.4 821.5h3.0v16.6h-3.0zM1246.9 821.5h3.0v14.4h-3.0zM1250.5 821.5h3.0v11.3h-3.0zM1257.6 821.5h3.0v12.4h-3.0zM1261.1 821.5h3.0v10.4h-3.0zM1264.7 821.5h3.0v7.5h-3.0zM1271.7 821.5h3.0v9.1h-3.0zM1296.5 821.5h3.0v27.3h-3.0zM1300.1 821.5h3.0v23.1h-3.0zM1303.6 821.5h3.0v23.0h-3.0zM1314.2 821.5h3.0v28.5h-3.0zM1317.8 821.5h3.0v24.8h-3.0zM1321.3 821.5h3.0v19.4h-3.0zM1324.9 821.5h3.0v13.2h-3.0zM1328.4 821.5h3.0v6.8h-3.0zM1331.9 821.5h3.0v5.8h-3.0zM1339.0 821.5h3.0v7.5h-3.0zM1342.6 821.5h3.0v4.7h-3.0zM1349.6 821.5h3.0v4.6h-3.0zM1356.7 821.5h3.0v5.9h-3.0zM1360.3 821.5h3.0v3.1h-3.0zM1363.8 819.1h3.0v2.4h-3.0zM1367.4 814.7h3.0v6.8h-3.0zM1370.9 810.3h3.0v11.2h-3.0zM1399.2 821.5h3.0v11.5h-3.0zM1402.8 821.5h3.0v8.4h-3.0zM1409.9 821.5h3.0v7.4h-3.0zM1413.4 821.5h3.0v3.8h-3.0zM1416.9 819.1h3.0v2.4h-3.0zM1424.0 817.8h3.0v3.7h-3.0zM1427.6 814.8h3.0v6.7h-3.0zM1434.6 815.5h3.0v6.0h-3.0zM1438.2 813.3h3.0v8.2h-3.0zM1441.7 810.2h3.0v11.3h-3.0zM1463.0 821.5h3.0v1.5h-3.0zM1466.5 818.3h3.0v3.2h-3.0zM1470.1 814.5h3.0v7.0h-3.0zM1473.6 810.5h3.0v11.0h-3.0zM1477.1 806.5h3.0v15.0h-3.0zM1480.7 802.9h3.0v18.6h-3.0zM1484.2 799.7h3.0v21.8h-3.0zM1487.8 797.0h3.0v24.5h-3.0zM1491.3 794.8h3.0v26.7h-3.0zM1494.8 793.0h3.0v28.5h-3.0zM1498.4 791.8h3.0v29.7h-3.0zM1537.3 821.5h3.0v11.5h-3.0zM1544.4 821.5h3.0v12.7h-3.0zM1551.5 821.5h3.0v14.4h-3.0zM1555.1 821.5h3.0v11.6h-3.0zM1562.1 821.5h3.0v11.5h-3.0zM1565.7 821.5h3.0v8.3h-3.0zM1569.2 821.5h3.0v4.2h-3.0zM1572.8 819.6h3.0v1.9h-3.0zM1601.1 821.5h3.0v26.5h-3.0zM1604.6 821.5h3.0v22.2h-3.0zM1608.2 821.5h3.0v16.3h-3.0zM1611.7 821.5h3.0v9.7h-3.0zM1615.3 821.5h3.0v3.0h-3.0zM1618.8 816.4h3.0v5.1h-3.0zM1622.3 810.5h3.0v11.0h-3.0zM1625.9 805.2h3.0v16.3h-3.0zM1629.4 800.7h3.0v20.8h-3.0zM1636.5 802.1h3.0v19.4h-3.0zM1640.1 801.1h3.0v20.4h-3.0zM1643.6 799.6h3.0v21.9h-3.0zM1668.4 821.5h3.0v8.8h-3.0zM1682.5 821.5h3.0v14.4h-3.0zM1686.1 821.5h3.0v10.2h-3.0zM1693.2 821.5h3.0v8.2h-3.0zM1696.7 821.5h3.0v4.4h-3.0zM1700.3 819.8h3.0v1.7h-3.0zM1714.4 821.5h3.0v2.1h-3.0zM1721.5 821.5h3.0v3.1h-3.0zM1735.7 821.5h3.0v8.3h-3.0zM1739.2 821.5h3.0v4.4h-3.0zM1742.8 819.6h3.0v1.9h-3.0zM1753.4 821.5h3.0v3.3h-3.0zM1767.5 821.5h3.0v9.0h-3.0zM1771.1 821.5h3.0v4.8h-3.0zM1774.6 819.7h3.0v1.8h-3.0zM1778.2 814.5h3.0v7.0h-3.0zM1781.7 809.4h3.0v12.1h-3.0zM1785.3 804.7h3.0v16.8h-3.0zM1788.8 800.5h3.0v21.0h-3.0zM1792.3 796.8h3.0v24.7h-3.0zM1795.9 793.8h3.0v27.7h-3.0z" fill="#ff0000"/>
<path d="M57.0 821.5h3.0v11.7h-3.0zM60.5 821.5h3.0v15.3h-3.0zM64.1 821.5h3.0v15.9h-3.0zM67.6 821.5h3.0v19.8h-3.0zM71.2 821.5h3.0v20.3h-3.0zM92.4 821.5h3.0v5.2h-3.0zM106.6 821.5h3.0v3.5h-3.0zM110.1 821.5h3.0v3.9h-3.0zM127.8 818.6h3.0v2.9h-3.0zM131.4 821.5h3.0v4.6h-3.0zM134.9 821.5h3.0v12.3h-3.0zM138.5 821.5h3.0v15.3h-3.0zM152.6 821.5h3.0v11.4h-3.0zM159.7 821.5h3.0v13.3h-3.0zM166.8 821.5h3.0v16.1h-3.0zM181.0 821.5h3.0v10.6h-3.0zM184.5 821.5h3.0v14.4h-3.0zM188.0 821.5h3.0v19.8h-3.0zM191.6 821.5h3.0v20.5h-3.0zM202.2 821.5h3.0v14.6h-3.0zM219.9 819.4h3.0v2.1h-3.0zM223.5 821.5h3.0v3.4h-3.0zM227.0 821.5h3.0v3.8h-3.0zM234.1 821.5h3.0v4.5h-3.0zM244.7 821.5h3.0v3.4h-3.0zM251.8 821.5h3.0v5.5h-3.0zM258.9 821.5h3.0v8.1h-3.0zM262.4 821.5h3.0v13.0h-3.0zM265.9 821.5h3.0v13.4h-3.0zM269.5 821.5h3.0v16.4h-3.0zM290.7 816.4h3.0v5.1h-3.0zM294.3 819.9h3.0v1.6h-3.0zM297.8 820.1h3.0v1.4h-3.0zM304.9 820.4h3.0v1.1h-3.0zM322.6 811.8h3.0v9.7h-3.0zM333.2 812.3h3.0v9.2h-3.0zM336.8 812.6h3.0v8.9h-3.0zM347.4 811.9h3.0v9.6h-3.0zM350.9 817.5h3.0v4.0h-3.0zM354.5 819.4h3.0v2.1h-3.0zM361.6 821.5h3.0v2.2h-3.0zM365.1 821.5h3.0v2.4h-3.0zM379.3 815.8h3.0v5.7h-3.0zM382.8 820.6h3.0v0.9h-3.0zM386.4 821.5h3.0v7.2h-3.0zM389.9 821.5h3.0v14.5h-3.0zM393.4 821.5h3.0v21.7h-3.0zM397.0 821.5h3.0v23.3h-3.0zM404.1 821.5h3.0v22.2h-3.0zM421.8 821.5h3.0v12.1h-3.0zM428.9 821.5h3.0v10.8h-3.0zM435.9 821.5h3.0v10.2h-3.0zM467.8 798.1h3.0v23.4h-3.0zM471.4 798.6h3.0v22.9h-3.0zM474.9 803.3h3.0v18.2h-3.0zM478.4 805.3h3.0v16.2h-3.0zM482.0 810.7h3.0v10.8h-3.0zM485.5 812.7h3.0v8.8h-3.0zM506.8 806.3h3.0v15.2h-3.0zM510.3 807.1h3.0v14.4h-3.0zM520.9 809.2h3.0v12.3h-3.0zM524.5 810.6h3.0v10.9h-3.0zM538.6 811.3h3.0v10.2h-3.0zM542.2 817.8h3.0v3.7h-3.0zM545.7 820.6h3.0v0.9h-3.0zM549.3 821.5h3.0v1.0h-3.0zM552.8 821.5h3.0v5.0h-3.0zM556.4 821.5h3.0v11.1h-3.0zM559.9 821.5h3.0v18.2h-3.0zM563.4 821.5h3.0v20.2h-3.0zM577.6 821.5h3.0v11.3h-3.0zM581.1 821.5h3.0v14.5h-3.0zM641.3 798.2h3.0v23.3h-3.0zM644.9 806.8h3.0v14.7h-3.0zM648.4 817.1h3.0v4.4h-3.0zM652.0 821.5h3.0v7.9h-3.0zM655.5 821.5h3.0v13.1h-3.0zM659.1 821.5h3.0v14.5h-3.0zM669.7 821.5h3.0v12.7h-3.0zM676.8 821.5h3.0v14.8h-3.0zM687.4 821.5h3.0v14.0h-3.0zM701.6 821.5h3.0v7.6h-3.0zM729.9 809.4h3.0v12.1h-3.0zM733.4 815.5h3.0v6.0h-3.0zM737.0 818.1h3.0v3.4h-3.0zM740.5 821.5h3.0v3.8h-3.0zM744.1 821.5h3.0v5.8h-3.0zM751.1 821.5h3.0v8.6h-3.0zM754.7 821.5h3.0v8.8h-3.0zM758.2 821.5h3.0v12.2h-3.0zM761.8 821.5h3.0v17.6h-3.0zM765.3 821.5h3.0v18.5h-3.0zM772.4 821.5h3.0v18.1h-3.0zM775.9 821.5h3.0v21.8h-3.0zM783.0 821.5h3.0v23.4h-3.0zM825.5 802.6h3.0v18.9h-3.0zM829.0 808.3h3.0v13.2h-3.0zM832.6 810.7h3.0v10.8h-3.0zM836.1 816.2h3.0v5.3h-3.0zM839.7 821.5h3.0v3.4h-3.0zM843.2 821.5h3.0v11.3h-3.0zM846.8 821.5h3.0v13.9h-3.0zM853.8 821.5h3.0v15.2h-3.0zM857.4 821.5h3.0v19.2h-3.0zM889.3 814.2h3.0v7.3h-3.0zM896.3 815.6h3.0v5.9h-3.0zM899.9 821.5h3.0v0.9h-3.0zM903.4 821.5h3.0v2.2h-3.0zM917.6 815.7h3.0v5.8h-3.0zM928.2 814.9h3.0v6.6h-3.0zM942.4 812.8h3.0v8.7h-3.0zM970.7 802.5h3.0v19.0h-3.0zM974.2 804.0h3.0v17.5h-3.0zM977.8 809.5h3.0v12.0h-3.0zM981.3 812.0h3.0v9.5h-3.0zM984.9 812.5h3.0v9.0h-3.0zM988.4 817.0h3.0v4.5h-3.0zM992.0 821.5h3.0v3.9h-3.0zM995.5 821.5h3.0v6.6h-3.0zM1002.6 821.5h3.0v9.7h-3.0zM1006.1 821.5h3.0v9.8h-3.0zM1013.2 821.5h3.0v10.0h-3.0zM1016.7 821.5h3.0v14.5h-3.0zM1020.3 821.5h3.0v14.9h-3.0zM1023.8 821.5h3.0v18.1h-3.0zM1052.2 811.4h3.0v10.1h-3.0zM1059.2 814.7h3.0v6.8h-3.0zM1062.8 815.6h3.0v5.9h-3.0zM1073.4 815.8h3.0v5.7h-3.0zM1077.0 821.5h3.0v1.5h-3.0zM1080.5 821.5h3.0v3.4h-3.0zM1084.0 821.5h3.0v8.0h-3.0zM1087.6 821.5h3.0v14.1h-3.0zM1091.1 821.5h3.0v20.8h-3.0zM1094.7 821.5h3.0v22.2h-3.0zM1115.9 821.5h3.0v8.9h-3.0zM1172.6 790.2h3.0v31.3h-3.0zM1176.1 795.9h3.0v25.6h-3.0zM1179.7 799.6h3.0v21.9h-3.0zM1183.2 801.8h3.0v19.7h-3.0zM1186.7 803.0h3.0v18.5h-3.0zM1190.3 803.6h3.0v17.9h-3.0zM1193.8 803.8h3.0v17.7h-3.0zM1208.0 808.7h3.0v12.8h-3.0zM1211.5 811.7h3.0v9.8h-3.0zM1215.1 813.2h3.0v8.3h-3.0zM1218.6 813.7h3.0v7.8h-3.0zM1222.2 818.8h3.0v2.7h-3.0zM1225.7 821.5h3.0v1.4h-3.0zM1229.2 821.5h3.0v7.3h-3.0zM1232.8 821.5h3.0v9.9h-3.0zM1236.3 821.5h3.0v15.4h-3.0zM1239.9 821.5h3.0v17.2h-3.0zM1254.0 821.5h3.0v13.0h-3.0zM1268.2 821.5h3.0v9.5h-3.0zM1275.3 821.5h3.0v12.6h-3.0zM1278.8 821.5h3.0v13.0h-3.0zM1282.4 821.5h3.0v16.6h-3.0zM1285.9 821.5h3.0v22.1h-3.0zM1289.4 821.5h3.0v28.4h-3.0zM1293.0 821.5h3.0v29.5h-3.0zM1307.1 821.5h3.0v25.4h-3.0zM1310.7 821.5h3.0v29.3h-3.0zM1335.5 821.5h3.0v8.2h-3.0zM1346.1 821.5h3.0v6.0h-3.0zM1353.2 821.5h3.0v6.9h-3.0zM1374.4 811.4h3.0v10.1h-3.0zM1378.0 815.8h3.0v5.7h-3.0zM1381.5 821.5h3.0v2.3h-3.0zM1385.1 821.5h3.0v4.3h-3.0zM1388.6 821.5h3.0v8.7h-3.0zM1392.1 821.5h3.0v9.1h-3.0zM1395.7 821.5h3.0v12.1h-3.0zM1406.3 821.5h3.0v9.4h-3.0zM1420.5 819.6h3.0v1.9h-3.0zM1431.1 816.4h3.0v5.1h-3.0zM1445.3 812.1h3.0v9.4h-3.0zM1448.8 817.0h3.0v4.5h-3.0zM1452.4 818.3h3.0v3.2h-3.0zM1455.9 821.5h3.0v2.6h-3.0zM1459.4 821.5h3.0v3.2h-3.0zM1501.9 796.2h3.0v25.3h-3.0zM1505.5 798.7h3.0v22.8h-3.0zM1509.0 800.0h3.0v21.5h-3.0zM1512.6 805.7h3.0v15.8h-3.0zM1516.1 813.9h3.0v7.6h-3.0zM1519.6 821.5h3.0v3.4h-3.0zM1523.2 821.5h3.0v7.8h-3.0zM1526.7 821.5h3.0v8.8h-3.0zM1530.3 821.5h3.0v12.9h-3.0zM1533.8 821.5h3.0v13.3h-3.0zM1540.9 821.5h3.0v13.6h-3.0zM1548.0 821.5h3.0v15.2h-3.0zM1558.6 821.5h3.0v12.9h-3.0zM1576.3 820.5h3.0v1.0h-3.0zM1579.8 821.5h3.0v4.6h-3.0zM1583.4 821.5h3.0v10.5h-3.0zM1586.9 821.5h3.0v17.2h-3.0zM1590.5 821.5h3.0v24.1h-3.0zM1594.0 821.5h3.0v25.3h-3.0zM1597.6 821.5h3.0v28.1h-3.0zM1633.0 802.2h3.0v19.3h-3.0zM1647.1 803.3h3.0v18.2h-3.0zM1650.7 804.6h3.0v16.9h-3.0zM1654.2 809.9h3.0v11.6h-3.0zM1657.8 817.3h3.0v4.2h-3.0zM1661.3 821.5h3.0v5.7h-3.0zM1664.8 821.5h3.0v9.0h-3.0zM1671.9 821.5h3.0v11.8h-3.0zM1675.5 821.5h3.0v16.6h-3.0zM1679.0 821.5h3.0v16.9h-3.0zM1689.6 821.5h3.0v10.5h-3.0zM1703.8 820.3h3.0v1.2h-3.0zM1707.3 821.5h3.0v4.0h-3.0zM1710.9 821.5h3.0v4.2h-3.0zM1718.0 821.5h3.0v4.0h-3.0zM1725.0 821.5h3.0v5.7h-3.0zM1728.6 821.5h3.0v10.3h-3.0zM1732.1 821.5h3.0v10.6h-3.0zM1746.3 819.9h3.0v1.6h-3.0zM1749.8 821.5h3.0v3.4h-3.0zM1756.9 821.5h3.0v6.3h-3.0zM1760.5 821.5h3.0v11.1h-3.0zM1764.0 821.5h3.0v11.4h-3.0zM1799.4 796.7h3.0v24.8h-3.0zM1803.0 803.1h3.0v18.4h-3.0zM1806.5 811.5h3.0v10.0h-3.0zM1810.0 821.5h3.0v0.8h-3.0zM1813.6 821.5h3.0v10.0h-3.0zM1817.1 821.5h3.0v13.5h-3.0zM1820.7 821.5h3.0v18.4h-3.0z" fill="#00ffff"/>
<path d="M54.7 709.5 L58.5 716.5 L62.0 720.1 L65.6 723.9 L69.1 728.7 L72.7 733.5 L76.2 738.0 L79.7 741.7 L83.3 744.4 L86.8 746.2 L90.4 746.9 L93.9 748.0 L97.5 749.0 L101.0 749.6 L104.5 749.6 L108.1 750.3 L111.6 751.0 L115.2 751.5 L118.7 751.5 L122.2 750.9 L125.8 749.7 L129.3 749.2 L132.9 750.1 L136.4 753.0 L140.0 756.6 L143.5 760.2 L147.0 763.3 L150.6 765.6 L154.1 768.2 L157.7 770.6 L161.2 773.7 L164.7 776.8 L168.3 780.6 L171.8 784.3 L175.4 787.5 L178.9 789.7 L182.5 792.1 L186.0 795.5 L189.5 800.2 L193.1 805.2 L196.6 809.6 L200.2 812.9 L203.7 816.4 L207.2 819.3 L210.8 821.2 L214.3 822.0 L217.9 821.5 L221.4 821.2 L225.0 821.9 L228.5 822.6 L232.0 823.0 L235.6 823.9 L239.1 824.7 L242.7 824.9 L246.2 825.5 L249.7 826.0 L253.3 827.1 L256.8 828.2 L260.4 830.1 L263.9 833.1 L267.4 836.3 L271.0 840.2 L274.5 843.8 L278.1 846.7 L281.6 848.3 L285.2 848.6 L288.7 847.5 L292.2 846.5 L295.8 846.3 L299.3 846.1 L302.9 845.5 L306.4 845.4 L309.9 845.1 L313.5 844.3 L317.0 842.6 L320.6 840.0 L324.1 837.8 L327.7 835.4 L331.2 832.6 L334.7 830.5 L338.3 828.5 L341.8 826.1 L345.4 823.3 L348.9 821.1 L352.4 820.3 L356.0 820.0 L359.5 819.5 L363.1 819.9 L366.6 820.3 L370.2 820.2 L373.7 819.4 L377.2 817.8 L380.8 816.6 L384.3 816.5 L387.9 818.2 L391.4 821.6 L394.9 826.8 L398.5 832.4 L402.0 837.6 L405.6 842.9 L409.1 847.6 L412.7 851.2 L416.2 854.6 L419.7 857.3 L423.3 860.1 L426.8 862.3 L430.4 864.8 L433.9 866.8 L437.4 869.2 L441.0 871.1 L444.5 872.0 L448.1 871.7 L451.6 870.1 L455.1 867.1 L458.7 863.0 L462.2 857.8 L465.8 851.6 L469.3 846.0 L472.9 840.5 L476.4 836.1 L479.9 832.3 L483.5 829.8 L487.0 827.7 L490.6 825.7 L494.1 823.3 L497.6 820.3 L501.2 816.6 L504.7 812.3 L508.3 808.7 L511.8 805.3 L515.4 801.8 L518.9 798.0 L522.4 795.1 L526.0 792.6 L529.5 790.1 L533.1 787.2 L536.6 784.0 L540.1 781.7 L543.7 780.9 L547.2 780.9 L550.8 781.0 L554.3 782.0 L557.9 784.6 L561.4 788.9 L564.9 793.8 L568.5 798.3 L572.0 802.0 L575.6 804.5 L579.1 807.2 L582.6 810.6 L586.2 813.9 L589.7 816.5 L593.3 818.2 L596.8 818.6 L600.3 817.9 L603.9 816.1 L607.4 813.1 L611.0 809.2 L614.5 804.5 L618.1 799.2 L621.6 793.2 L625.1 786.9 L628.7 780.3 L632.2 773.4 L635.8 766.5 L639.3 759.5 L642.8 753.9 L646.4 750.4 L649.9 749.5 L653.5 751.3 L657.0 754.4 L660.6 757.8 L664.1 761.0 L667.6 763.5 L671.2 766.4 L674.7 769.2 L678.3 772.7 L681.8 776.1 L685.3 779.0 L688.9 782.3 L692.4 785.3 L696.0 787.7 L699.5 789.1 L703.1 790.8 L706.6 792.2 L710.1 793.0 L713.7 792.9 L717.2 792.0 L720.8 790.1 L724.3 787.4 L727.8 783.9 L731.4 781.1 L734.9 779.8 L738.5 779.1 L742.0 779.9 L745.6 781.1 L749.1 782.3 L752.6 784.2 L756.2 786.2 L759.7 789.1 L763.3 793.3 L766.8 797.7 L770.3 801.6 L773.9 805.9 L777.4 811.2 L781.0 816.3 L784.5 822.0 L788.0 827.2 L791.6 831.4 L795.1 835.7 L798.7 839.2 L802.2 841.6 L805.8 842.6 L809.3 842.3 L812.8 840.6 L816.4 837.7 L819.9 833.7 L823.5 828.6 L827.0 824.1 L830.5 821.0 L834.1 818.5 L837.6 817.4 L841.2 818.0 L844.7 820.7 L848.3 823.9 L851.8 827.0 L855.3 830.5 L858.9 835.1 L862.4 839.6 L866.0 843.3 L869.5 845.8 L873.0 848.3 L876.6 850.1 L880.1 850.8 L883.7 850.3 L887.2 848.6 L890.8 846.9 L894.3 845.0 L897.8 843.7 L901.4 843.7 L904.9 844.0 L908.5 844.1 L912.0 843.4 L915.5 841.8 L919.1 840.5 L922.6 839.1 L926.2 837.0 L929.7 835.6 L933.3 834.1 L936.8 832.2 L940.3 829.6 L943.9 827.7 L947.4 825.7 L951.0 823.4 L954.5 820.5 L958.0 816.9 L961.6 812.7 L965.1 807.9 L968.7 802.5 L972.2 797.9 L975.7 793.8 L979.3 790.9 L982.8 788.8 L986.4 786.7 L989.9 785.8 L993.5 786.6 L997.0 788.0 L1000.5 789.4 L1004.1 791.7 L1007.6 793.9 L1011.2 795.7 L1014.7 798.0 L1018.2 801.4 L1021.8 804.9 L1025.3 809.2 L1028.9 813.4 L1032.4 816.8 L1036.0 819.2 L1039.5 820.3 L1043.0 820.0 L1046.6 818.6 L1050.1 816.0 L1053.7 813.7 L1057.2 811.2 L1060.7 809.7 L1064.3 808.5 L1067.8 807.0 L1071.4 805.0 L1074.9 803.8 L1078.5 804.0 L1082.0 804.6 L1085.5 806.4 L1089.1 809.8 L1092.6 814.8 L1096.2 820.1 L1099.7 825.0 L1103.2 828.8 L1106.8 831.3 L1110.3 833.7 L1113.9 835.4 L1117.4 837.4 L1121.0 839.0 L1124.5 839.9 L1128.0 839.6 L1131.6 838.2 L1135.1 835.7 L1138.7 832.1 L1142.2 827.6 L1145.7 822.2 L1149.3 816.2 L1152.8 809.6 L1156.4 802.6 L1159.9 795.2 L1163.4 787.7 L1167.0 780.1 L1170.5 772.4 L1174.1 764.8 L1177.6 758.6 L1181.2 753.3 L1184.7 748.6 L1188.2 744.1 L1191.8 739.9 L1195.3 735.6 L1198.9 731.4 L1202.4 727.1 L1205.9 722.9 L1209.5 719.9 L1213.0 717.6 L1216.6 715.8 L1220.1 714.0 L1223.7 713.5 L1227.2 713.7 L1230.7 715.3 L1234.3 717.6 L1237.8 721.3 L1241.4 725.4 L1244.9 729.3 L1248.4 732.7 L1252.0 735.3 L1255.5 738.4 L1259.1 741.3 L1262.6 743.7 L1266.2 745.3 L1269.7 747.5 L1273.2 749.6 L1276.8 752.5 L1280.3 755.6 L1283.9 759.5 L1287.4 764.9 L1290.9 771.8 L1294.5 778.9 L1298.0 785.6 L1301.6 791.1 L1305.1 796.7 L1308.6 802.8 L1312.2 810.0 L1315.7 816.9 L1319.3 822.9 L1322.8 827.6 L1326.4 830.7 L1329.9 832.1 L1333.4 833.4 L1337.0 835.3 L1340.5 836.9 L1344.1 837.9 L1347.6 839.2 L1351.1 840.2 L1354.7 841.7 L1358.2 843.0 L1361.8 843.5 L1365.3 843.1 L1368.9 841.6 L1372.4 839.0 L1375.9 836.7 L1379.5 835.5 L1383.0 835.8 L1386.6 836.7 L1390.1 838.7 L1393.6 840.8 L1397.2 843.6 L1400.7 846.3 L1404.3 848.2 L1407.8 850.3 L1411.4 852.0 L1414.9 852.7 L1418.4 852.3 L1422.0 852.0 L1425.5 851.3 L1429.1 849.8 L1432.6 848.7 L1436.1 847.5 L1439.7 845.6 L1443.2 843.0 L1446.8 840.8 L1450.3 839.9 L1453.9 839.3 L1457.4 839.7 L1460.9 840.3 L1464.5 840.5 L1468.0 839.9 L1471.6 838.3 L1475.1 835.8 L1478.6 832.2 L1482.2 827.8 L1485.7 822.6 L1489.3 816.6 L1492.8 810.2 L1496.3 803.2 L1499.9 796.0 L1503.4 789.9 L1507.0 784.4 L1510.5 779.2 L1514.1 775.4 L1517.6 773.7 L1521.1 774.4 L1524.7 776.2 L1528.2 778.2 L1531.8 781.2 L1535.3 784.3 L1538.8 787.0 L1542.4 790.2 L1545.9 793.1 L1549.5 796.7 L1553.0 800.1 L1556.6 802.9 L1560.1 805.9 L1563.6 808.6 L1567.2 810.4 L1570.7 811.3 L1574.3 811.0 L1577.8 810.9 L1581.3 811.9 L1584.9 814.3 L1588.4 818.4 L1592.0 824.3 L1595.5 830.4 L1599.1 837.2 L1602.6 843.6 L1606.1 849.0 L1609.7 852.9 L1613.2 855.1 L1616.8 855.6 L1620.3 854.6 L1623.8 852.0 L1627.4 848.1 L1630.9 843.1 L1634.5 838.5 L1638.0 833.8 L1641.6 828.9 L1645.1 823.7 L1648.6 819.3 L1652.2 815.3 L1655.7 812.6 L1659.3 811.7 L1662.8 813.0 L1666.3 815.0 L1669.9 817.0 L1673.4 819.8 L1677.0 823.7 L1680.5 827.7 L1684.0 831.1 L1687.6 833.5 L1691.1 835.9 L1694.7 837.7 L1698.2 838.6 L1701.8 838.4 L1705.3 838.3 L1708.8 839.1 L1712.4 840.0 L1715.9 840.3 L1719.5 841.1 L1723.0 841.7 L1726.5 842.9 L1730.1 845.2 L1733.6 847.7 L1737.2 849.6 L1740.7 850.5 L1744.3 850.2 L1747.8 850.0 L1751.3 850.6 L1754.9 851.3 L1758.4 852.7 L1762.0 855.2 L1765.5 857.9 L1769.0 859.9 L1772.6 860.9 L1776.1 860.7 L1779.7 859.1 L1783.2 856.3 L1786.8 852.3 L1790.3 847.3 L1793.8 841.3 L1797.4 834.6 L1800.9 828.6 L1804.5 824.2 L1808.0 821.9 L1811.5 821.9 L1815.1 824.2 L1818.6 827.4 L1822.2 831.8" fill="none" stroke="#00e400" stroke-width="1.0" stroke-linejoin="round"/>
<path d="M54.7 713.8 L58.5 727.4 L62.0 734.6 L65.6 739.0 L69.1 747.7 L72.7 753.1 L76.2 755.8 L79.7 756.5 L83.3 755.4 L86.8 753.1 L90.4 749.8 L93.9 752.4 L97.5 752.9 L101.0 751.9 L104.5 749.6 L108.1 752.9 L111.6 754.1 L115.2 753.5 L118.7 751.5 L122.2 748.5 L125.8 744.8 L129.3 747.0 L132.9 753.9 L136.4 764.5 L140.0 771.1 L143.5 774.6 L147.0 775.6 L150.6 774.7 L154.1 778.8 L157.7 780.3 L161.2 786.2 L164.7 789.0 L168.3 795.9 L171.8 799.3 L175.4 800.0 L178.9 798.5 L182.5 801.9 L186.0 809.1 L189.5 819.2 L193.1 824.9 L196.6 827.1 L200.2 826.5 L203.7 830.2 L207.2 830.8 L210.8 828.9 L214.3 825.1 L217.9 819.8 L221.4 820.0 L225.0 824.5 L228.5 825.7 L232.0 824.3 L235.6 827.6 L239.1 827.8 L242.7 825.6 L246.2 828.2 L249.7 827.8 L253.3 831.8 L256.8 832.6 L260.4 837.4 L263.9 845.3 L267.4 848.9 L271.0 855.8 L274.5 858.5 L278.1 858.0 L281.6 854.9 L285.2 849.8 L288.7 843.2 L292.2 842.2 L295.8 845.4 L299.3 845.4 L302.9 842.9 L306.4 845.0 L309.9 844.2 L313.5 840.9 L317.0 836.0 L320.6 829.6 L324.1 828.9 L327.7 826.0 L331.2 821.4 L334.7 822.1 L338.3 820.4 L341.8 816.8 L345.4 811.8 L348.9 812.3 L352.4 817.1 L356.0 818.7 L359.5 817.7 L363.1 821.3 L366.6 821.8 L370.2 820.0 L373.7 816.3 L377.2 811.2 L380.8 811.7 L384.3 816.5 L387.9 824.6 L391.4 835.2 L394.9 847.8 L398.5 855.0 L402.0 858.0 L405.6 864.3 L409.1 866.5 L412.7 865.4 L416.2 868.4 L419.7 867.9 L423.3 871.4 L426.8 871.2 L430.4 874.9 L433.9 874.9 L437.4 878.6 L441.0 878.5 L444.5 875.6 L448.1 870.5 L451.6 863.6 L455.1 855.5 L458.7 846.5 L462.2 836.9 L465.8 827.0 L469.3 823.4 L472.9 818.4 L476.4 818.8 L479.9 816.8 L483.5 819.7 L487.0 819.7 L490.6 817.5 L494.1 813.5 L497.6 808.3 L501.2 802.0 L504.7 795.1 L508.3 794.3 L511.8 791.7 L515.4 787.8 L518.9 782.8 L522.4 783.7 L526.0 782.5 L529.5 779.8 L533.1 775.9 L536.6 771.1 L540.1 772.3 L543.7 778.0 L547.2 780.8 L550.8 781.1 L554.3 786.2 L557.9 794.9 L561.4 806.3 L564.9 813.2 L568.5 816.4 L572.0 816.7 L575.6 814.8 L579.1 817.6 L582.6 824.3 L586.2 827.1 L589.7 827.1 L593.3 824.7 L596.8 820.6 L600.3 815.1 L603.9 808.6 L607.4 801.4 L611.0 793.7 L614.5 785.7 L618.1 777.7 L621.6 769.6 L625.1 761.6 L628.7 753.7 L632.2 746.1 L635.8 738.7 L639.3 731.6 L642.8 731.4 L646.4 736.6 L649.9 745.9 L653.5 758.4 L657.0 766.7 L660.6 771.5 L664.1 773.6 L667.6 773.5 L671.2 778.3 L674.7 780.3 L678.3 786.7 L681.8 789.8 L685.3 790.4 L688.9 795.5 L692.4 797.5 L696.0 797.1 L699.5 794.8 L703.1 797.7 L706.6 797.9 L710.1 796.1 L713.7 792.7 L717.2 788.1 L720.8 782.6 L724.3 776.5 L727.8 770.0 L731.4 769.8 L734.9 774.6 L738.5 776.5 L742.0 782.9 L745.6 786.1 L749.1 786.8 L752.6 792.0 L756.2 794.2 L759.7 800.5 L763.3 810.0 L766.8 815.3 L770.3 817.3 L773.9 823.2 L777.4 832.2 L781.0 836.8 L784.5 844.6 L788.0 848.1 L791.6 848.4 L795.1 852.6 L798.7 853.2 L802.2 851.1 L805.8 846.9 L809.3 841.0 L812.8 834.0 L816.4 826.0 L819.9 817.5 L823.5 808.6 L827.0 806.1 L830.5 808.6 L834.1 808.5 L837.6 812.8 L841.2 820.7 L844.7 831.1 L848.3 837.0 L851.8 839.1 L855.3 844.9 L858.9 853.5 L862.4 857.6 L866.0 858.1 L869.5 855.9 L873.0 858.1 L876.6 857.1 L880.1 853.7 L883.7 848.3 L887.2 841.6 L890.8 840.4 L894.3 837.0 L897.8 838.5 L901.4 843.8 L904.9 845.4 L908.5 844.2 L912.0 840.7 L915.5 835.4 L919.1 835.5 L922.6 833.2 L926.2 828.9 L929.7 829.8 L933.3 828.2 L936.8 824.6 L940.3 819.4 L943.9 819.8 L947.4 817.8 L951.0 814.0 L954.5 808.9 L958.0 802.7 L961.6 795.9 L965.1 788.6 L968.7 780.9 L972.2 779.7 L975.7 777.0 L979.3 779.7 L982.8 780.0 L986.4 778.5 L989.9 782.1 L993.5 789.7 L997.0 793.8 L1000.5 795.0 L1004.1 800.6 L1007.6 803.0 L1011.2 802.8 L1014.7 807.1 L1018.2 815.0 L1021.8 819.1 L1025.3 826.5 L1028.9 830.1 L1032.4 830.5 L1036.0 828.5 L1039.5 824.6 L1043.0 819.2 L1046.6 812.8 L1050.1 805.6 L1053.7 804.4 L1057.2 801.5 L1060.7 803.7 L1064.3 803.4 L1067.8 801.1 L1071.4 797.3 L1074.9 798.9 L1078.5 804.7 L1082.0 807.2 L1085.5 813.6 L1089.1 823.1 L1092.6 834.8 L1096.2 841.6 L1099.7 844.4 L1103.2 844.0 L1106.8 841.3 L1110.3 843.2 L1113.9 842.2 L1117.4 845.5 L1121.0 845.6 L1124.5 843.1 L1128.0 838.6 L1131.6 832.7 L1135.1 825.6 L1138.7 817.8 L1142.2 809.5 L1145.7 800.8 L1149.3 792.0 L1152.8 783.2 L1156.4 774.5 L1159.9 765.9 L1163.4 757.6 L1167.0 749.5 L1170.5 741.7 L1174.1 734.3 L1177.6 733.8 L1181.2 732.2 L1184.7 729.6 L1188.2 726.4 L1191.8 722.7 L1195.3 718.7 L1198.9 714.5 L1202.4 710.1 L1205.9 705.7 L1209.5 707.9 L1213.0 708.7 L1216.6 708.3 L1220.1 707.0 L1223.7 711.6 L1227.2 714.3 L1230.7 721.9 L1234.3 726.7 L1237.8 735.9 L1241.4 741.8 L1244.9 745.1 L1248.4 746.2 L1252.0 745.8 L1255.5 750.6 L1259.1 752.9 L1262.6 753.2 L1266.2 752.0 L1269.7 756.2 L1273.2 757.9 L1276.8 764.3 L1280.3 767.8 L1283.9 775.4 L1287.4 786.2 L1290.9 799.3 L1294.5 807.7 L1298.0 812.1 L1301.6 813.4 L1305.1 818.8 L1308.6 827.5 L1312.2 838.5 L1315.7 844.6 L1319.3 846.9 L1322.8 846.2 L1326.4 843.1 L1329.9 838.1 L1333.4 838.4 L1337.0 842.7 L1340.5 843.6 L1344.1 841.8 L1347.6 844.4 L1351.1 844.0 L1354.7 847.7 L1358.2 848.1 L1361.8 845.8 L1365.3 841.5 L1368.9 835.6 L1372.4 828.6 L1375.9 827.3 L1379.5 830.6 L1383.0 837.4 L1386.6 840.2 L1390.1 846.6 L1393.6 849.0 L1397.2 854.9 L1400.7 856.9 L1404.3 855.8 L1407.8 858.9 L1411.4 858.6 L1414.9 855.7 L1418.4 850.8 L1422.0 850.9 L1425.5 848.4 L1429.1 843.9 L1432.6 844.4 L1436.1 842.3 L1439.7 838.2 L1443.2 832.5 L1446.8 832.2 L1450.3 836.2 L1453.9 836.9 L1457.4 841.6 L1460.9 842.7 L1464.5 841.2 L1468.0 837.5 L1471.6 832.1 L1475.1 825.5 L1478.6 818.1 L1482.2 810.0 L1485.7 801.6 L1489.3 792.9 L1492.8 784.2 L1496.3 775.6 L1499.9 767.1 L1503.4 765.3 L1507.0 762.4 L1510.5 758.4 L1514.1 760.4 L1517.6 767.0 L1521.1 777.0 L1524.7 783.2 L1528.2 786.2 L1531.8 793.2 L1535.3 796.8 L1538.8 797.7 L1542.4 802.9 L1545.9 805.0 L1549.5 811.1 L1553.0 813.8 L1556.6 813.7 L1560.1 818.0 L1563.6 819.2 L1567.2 817.9 L1570.7 814.7 L1574.3 809.9 L1577.8 810.7 L1581.3 815.7 L1584.9 824.1 L1588.4 834.9 L1592.0 847.5 L1595.5 854.9 L1599.1 864.5 L1602.6 869.4 L1606.1 870.4 L1609.7 868.3 L1613.2 864.0 L1616.8 857.8 L1620.3 850.3 L1623.8 841.8 L1627.4 832.7 L1630.9 823.1 L1634.5 820.0 L1638.0 815.2 L1641.6 809.3 L1645.1 802.6 L1648.6 801.9 L1652.2 799.2 L1655.7 801.8 L1659.3 808.3 L1662.8 817.9 L1666.3 823.1 L1669.9 825.0 L1673.4 830.8 L1677.0 839.5 L1680.5 843.8 L1684.0 844.7 L1687.6 842.9 L1691.1 845.6 L1694.7 845.1 L1698.2 842.2 L1701.8 837.5 L1705.3 837.9 L1708.8 842.3 L1712.4 843.3 L1715.9 841.6 L1719.5 844.3 L1723.0 844.0 L1726.5 847.7 L1730.1 854.7 L1733.6 857.5 L1737.2 857.1 L1740.7 854.1 L1744.3 849.1 L1747.8 849.1 L1751.3 853.2 L1754.9 853.8 L1758.4 858.2 L1762.0 865.5 L1765.5 868.5 L1769.0 868.1 L1772.6 864.9 L1776.1 859.7 L1779.7 853.0 L1783.2 845.0 L1786.8 836.3 L1790.3 827.0 L1793.8 817.4 L1797.4 807.7 L1800.9 804.6 L1804.5 806.6 L1808.0 812.7 L1811.5 821.9 L1815.1 833.4 L1818.6 840.1 L1822.2 849.4" fill="none" stroke="#ececec" stroke-width="1.0" stroke-linejoin="round"/>
<polygon points="323.0,349.3 1618.2,118.6 1618.4,123.6 1630.4,112.9 1615.3,107.3 1617.0,111.8 323.0,349.3" fill="#1fa81f"/>
<polygon points="81.8,537.4 1776.2,329.8 1776.1,334.8 1788.7,324.8 1773.6,319.3 1775.4,323.0 81.8,537.4" fill="#1fa81f"/>
<polygon points="349.0,721.7 1826.6,414.7 1826.3,418.8 1838.5,408.3 1823.0,402.9 1825.0,407.3 349.0,721.7" fill="#1fa81f"/>
<text x="682.8 703.1 722.0 731.9 741.8 751.4 770.3 780.2 790.1 800.5 818.3 836.9 854.3 865.4 886.4 893.9 912.5 931.1 949.7 971.3 978.5 987.9 998.0 1016.6 1038.2 1045.4 1054.8 1064.9 1083.5 1102.1 1120.7 1142.3 1149.5 1161.9 1169.3 1179.2 1189.2" y="24.1" font-size="18.2" fill="#e8e8e8" font-family="'Liberation Serif','Noto Serif CJK SC',serif">【胆258中123】频率K线(当前遗漏:1 周期:1 理论周期:1.52)</text>
</svg>
</body></html>
